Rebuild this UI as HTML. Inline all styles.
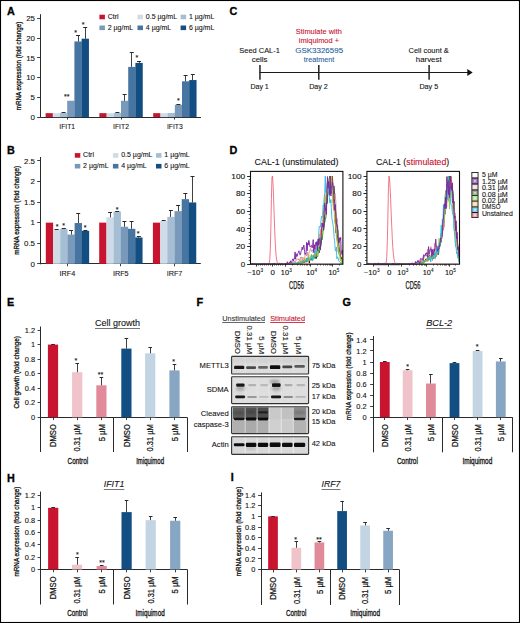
<!DOCTYPE html>
<html><head><meta charset="utf-8"><style>
html,body{margin:0;padding:0;background:#fff;}
svg{display:block;}
svg text{font-family:"Liberation Sans", sans-serif;}
</style></head><body>
<svg width="520" height="623" viewBox="0 0 520 623">
<rect x="0" y="0" width="520" height="623" fill="#fff"/>
<text x="6.90" y="14.80" font-size="10.8" fill="#000" stroke="#000" stroke-width="0.3" font-weight="bold">A</text>
<text x="7.10" y="153.60" font-size="10.8" fill="#000" stroke="#000" stroke-width="0.3" font-weight="bold">B</text>
<text x="229.50" y="15.00" font-size="10.8" fill="#000" stroke="#000" stroke-width="0.3" font-weight="bold">C</text>
<text x="229.60" y="153.70" font-size="10.8" fill="#000" stroke="#000" stroke-width="0.3" font-weight="bold">D</text>
<text x="7.00" y="306.20" font-size="10.8" fill="#000" stroke="#000" stroke-width="0.3" font-weight="bold">E</text>
<text x="196.60" y="305.90" font-size="10.8" fill="#000" stroke="#000" stroke-width="0.3" font-weight="bold">F</text>
<text x="342.40" y="305.90" font-size="10.8" fill="#000" stroke="#000" stroke-width="0.3" font-weight="bold">G</text>
<text x="6.90" y="481.90" font-size="10.8" fill="#000" stroke="#000" stroke-width="0.3" font-weight="bold">H</text>
<text x="230.80" y="481.40" font-size="10.8" fill="#000" stroke="#000" stroke-width="0.3" font-weight="bold">I</text>
<line x1="40.50" y1="14.20" x2="40.50" y2="117.60" stroke="#2a2a2a" stroke-width="1"/>
<line x1="37.10" y1="117.50" x2="40.60" y2="117.50" stroke="#2a2a2a" stroke-width="0.9"/>
<text x="35.00" y="119.80" font-size="7.9" text-anchor="end" fill="#111111" stroke="#111111" stroke-width="0.1">0</text>
<line x1="37.10" y1="97.50" x2="40.60" y2="97.50" stroke="#2a2a2a" stroke-width="0.9"/>
<text x="35.00" y="100.10" font-size="7.9" text-anchor="end" fill="#111111" stroke="#111111" stroke-width="0.1">5</text>
<line x1="37.10" y1="77.50" x2="40.60" y2="77.50" stroke="#2a2a2a" stroke-width="0.9"/>
<text x="35.00" y="80.40" font-size="7.9" text-anchor="end" fill="#111111" stroke="#111111" stroke-width="0.1">10</text>
<line x1="37.10" y1="57.50" x2="40.60" y2="57.50" stroke="#2a2a2a" stroke-width="0.9"/>
<text x="35.00" y="60.70" font-size="7.9" text-anchor="end" fill="#111111" stroke="#111111" stroke-width="0.1">15</text>
<line x1="37.10" y1="38.50" x2="40.60" y2="38.50" stroke="#2a2a2a" stroke-width="0.9"/>
<text x="35.00" y="41.00" font-size="7.9" text-anchor="end" fill="#111111" stroke="#111111" stroke-width="0.1">20</text>
<line x1="37.10" y1="18.50" x2="40.60" y2="18.50" stroke="#2a2a2a" stroke-width="0.9"/>
<text x="35.00" y="21.30" font-size="7.9" text-anchor="end" fill="#111111" stroke="#111111" stroke-width="0.1">25</text>
<line x1="40.60" y1="117.50" x2="201.00" y2="117.50" stroke="#2a2a2a" stroke-width="1"/>
<rect x="45.60" y="113.16" width="7.35" height="3.94" fill="#c8142f"/>
<rect x="52.80" y="113.16" width="7.35" height="3.94" fill="#cfdce7"/>
<rect x="60.00" y="112.84" width="7.35" height="4.26" fill="#a6bed3"/>
<rect x="67.20" y="100.75" width="7.35" height="16.35" fill="#7899b9"/>
<rect x="74.40" y="41.45" width="7.35" height="75.65" fill="#4675a1"/>
<rect x="81.60" y="38.69" width="7.35" height="78.41" fill="#124e82"/>
<line x1="63.50" y1="112.84" x2="63.50" y2="112.29" stroke="#2a2a2a" stroke-width="0.9"/>
<line x1="61.60" y1="112.50" x2="65.60" y2="112.50" stroke="#2a2a2a" stroke-width="1.0"/>
<line x1="78.50" y1="41.45" x2="78.50" y2="35.54" stroke="#2a2a2a" stroke-width="0.9"/>
<line x1="76.00" y1="35.50" x2="80.00" y2="35.50" stroke="#2a2a2a" stroke-width="1.0"/>
<line x1="85.50" y1="38.69" x2="85.50" y2="27.27" stroke="#2a2a2a" stroke-width="0.9"/>
<line x1="83.20" y1="27.50" x2="87.20" y2="27.50" stroke="#2a2a2a" stroke-width="1.0"/>
<text x="66.80" y="99.00" font-size="7" text-anchor="middle" fill="#111111" stroke="#111111" stroke-width="0.1">**</text>
<text x="75.60" y="34.70" font-size="7" text-anchor="middle" fill="#111111" stroke="#111111" stroke-width="0.1">*</text>
<text x="83.00" y="27.00" font-size="7" text-anchor="middle" fill="#111111" stroke="#111111" stroke-width="0.1">*</text>
<line x1="67.50" y1="117.10" x2="67.50" y2="119.60" stroke="#2a2a2a" stroke-width="0.9"/>
<text x="67.20" y="128.80" font-size="8.1" text-anchor="middle" fill="#111111" stroke="#111111" stroke-width="0.1" textLength="15.80" lengthAdjust="spacingAndGlyphs">IFIT1</text>
<rect x="99.40" y="113.16" width="7.35" height="3.94" fill="#c8142f"/>
<rect x="106.60" y="113.16" width="7.35" height="3.94" fill="#cfdce7"/>
<rect x="113.80" y="112.88" width="7.35" height="4.22" fill="#a6bed3"/>
<rect x="121.00" y="100.79" width="7.35" height="16.31" fill="#7899b9"/>
<rect x="128.20" y="66.90" width="7.35" height="50.20" fill="#4675a1"/>
<rect x="135.40" y="62.89" width="7.35" height="54.21" fill="#124e82"/>
<line x1="117.50" y1="112.88" x2="117.50" y2="112.37" stroke="#2a2a2a" stroke-width="0.9"/>
<line x1="115.40" y1="112.50" x2="119.40" y2="112.50" stroke="#2a2a2a" stroke-width="1.0"/>
<line x1="124.50" y1="100.79" x2="124.50" y2="94.64" stroke="#2a2a2a" stroke-width="0.9"/>
<line x1="122.60" y1="94.50" x2="126.60" y2="94.50" stroke="#2a2a2a" stroke-width="1.0"/>
<line x1="131.50" y1="66.90" x2="131.50" y2="52.09" stroke="#2a2a2a" stroke-width="0.9"/>
<line x1="129.80" y1="52.50" x2="133.80" y2="52.50" stroke="#2a2a2a" stroke-width="1.0"/>
<line x1="139.50" y1="62.89" x2="139.50" y2="61.15" stroke="#2a2a2a" stroke-width="0.9"/>
<line x1="137.00" y1="61.50" x2="141.00" y2="61.50" stroke="#2a2a2a" stroke-width="1.0"/>
<text x="136.90" y="59.60" font-size="7" text-anchor="middle" fill="#111111" stroke="#111111" stroke-width="0.1">*</text>
<line x1="121.50" y1="117.10" x2="121.50" y2="119.60" stroke="#2a2a2a" stroke-width="0.9"/>
<text x="121.00" y="128.80" font-size="8.1" text-anchor="middle" fill="#111111" stroke="#111111" stroke-width="0.1" textLength="15.80" lengthAdjust="spacingAndGlyphs">IFIT2</text>
<rect x="153.20" y="113.16" width="7.35" height="3.94" fill="#c8142f"/>
<rect x="160.40" y="113.16" width="7.35" height="3.94" fill="#cfdce7"/>
<rect x="167.60" y="113.00" width="7.35" height="4.10" fill="#a6bed3"/>
<rect x="174.80" y="104.81" width="7.35" height="12.29" fill="#7899b9"/>
<rect x="182.00" y="81.29" width="7.35" height="35.81" fill="#4675a1"/>
<rect x="189.20" y="80.06" width="7.35" height="37.04" fill="#124e82"/>
<line x1="178.50" y1="104.81" x2="178.50" y2="104.49" stroke="#2a2a2a" stroke-width="0.9"/>
<line x1="176.40" y1="104.50" x2="180.40" y2="104.50" stroke="#2a2a2a" stroke-width="1.0"/>
<line x1="185.50" y1="81.29" x2="185.50" y2="75.41" stroke="#2a2a2a" stroke-width="0.9"/>
<line x1="183.60" y1="75.50" x2="187.60" y2="75.50" stroke="#2a2a2a" stroke-width="1.0"/>
<line x1="192.50" y1="80.06" x2="192.50" y2="74.55" stroke="#2a2a2a" stroke-width="0.9"/>
<line x1="190.80" y1="74.50" x2="194.80" y2="74.50" stroke="#2a2a2a" stroke-width="1.0"/>
<text x="178.40" y="103.10" font-size="7" text-anchor="middle" fill="#111111" stroke="#111111" stroke-width="0.1">*</text>
<line x1="174.50" y1="117.10" x2="174.50" y2="119.60" stroke="#2a2a2a" stroke-width="0.9"/>
<text x="174.80" y="128.80" font-size="8.1" text-anchor="middle" fill="#111111" stroke="#111111" stroke-width="0.1" textLength="15.80" lengthAdjust="spacingAndGlyphs">IFIT3</text>
<text x="21.00" y="66.00" font-size="7.3" text-anchor="middle" fill="#111111" stroke="#111111" stroke-width="0.3" textLength="88.50" lengthAdjust="spacingAndGlyphs" transform="rotate(-90 21.00 66.00)">mRNA expression (fold change)</text>
<rect x="99.40" y="14.70" width="5.50" height="4.60" fill="#c8142f"/>
<text x="107.70" y="18.80" font-size="7.0" fill="#111111" stroke="#111111" stroke-width="0.1">Ctrl</text>
<rect x="137.50" y="14.70" width="5.50" height="4.60" fill="#cfdce7"/>
<text x="145.80" y="18.80" font-size="7.0" fill="#111111" stroke="#111111" stroke-width="0.1">0.5 µg/mL</text>
<rect x="180.60" y="14.70" width="5.50" height="4.60" fill="#a6bed3"/>
<text x="188.90" y="18.80" font-size="7.0" fill="#111111" stroke="#111111" stroke-width="0.1">1 µg/mL</text>
<rect x="99.40" y="25.50" width="5.50" height="4.60" fill="#7899b9"/>
<text x="107.70" y="29.60" font-size="7.0" fill="#111111" stroke="#111111" stroke-width="0.1">2 µg/mL</text>
<rect x="137.50" y="25.50" width="5.50" height="4.60" fill="#4675a1"/>
<text x="145.80" y="29.60" font-size="7.0" fill="#111111" stroke="#111111" stroke-width="0.1">4 µg/mL</text>
<rect x="180.60" y="25.50" width="5.50" height="4.60" fill="#124e82"/>
<text x="188.90" y="29.60" font-size="7.0" fill="#111111" stroke="#111111" stroke-width="0.1">6 µg/mL</text>
<line x1="40.50" y1="157.00" x2="40.50" y2="264.30" stroke="#2a2a2a" stroke-width="1"/>
<line x1="37.20" y1="263.50" x2="40.70" y2="263.50" stroke="#2a2a2a" stroke-width="0.9"/>
<text x="35.00" y="266.50" font-size="7.9" text-anchor="end" fill="#111111" stroke="#111111" stroke-width="0.1">0</text>
<line x1="37.20" y1="243.50" x2="40.70" y2="243.50" stroke="#2a2a2a" stroke-width="0.9"/>
<text x="35.00" y="245.92" font-size="7.9" text-anchor="end" fill="#111111" stroke="#111111" stroke-width="0.1">0.5</text>
<line x1="37.20" y1="222.50" x2="40.70" y2="222.50" stroke="#2a2a2a" stroke-width="0.9"/>
<text x="35.00" y="225.34" font-size="7.9" text-anchor="end" fill="#111111" stroke="#111111" stroke-width="0.1">1</text>
<line x1="37.20" y1="202.50" x2="40.70" y2="202.50" stroke="#2a2a2a" stroke-width="0.9"/>
<text x="35.00" y="204.76" font-size="7.9" text-anchor="end" fill="#111111" stroke="#111111" stroke-width="0.1">1.5</text>
<line x1="37.20" y1="181.50" x2="40.70" y2="181.50" stroke="#2a2a2a" stroke-width="0.9"/>
<text x="35.00" y="184.18" font-size="7.9" text-anchor="end" fill="#111111" stroke="#111111" stroke-width="0.1">2</text>
<line x1="37.20" y1="160.50" x2="40.70" y2="160.50" stroke="#2a2a2a" stroke-width="0.9"/>
<text x="35.00" y="163.60" font-size="7.9" text-anchor="end" fill="#111111" stroke="#111111" stroke-width="0.1">2.5</text>
<line x1="40.70" y1="263.50" x2="200.80" y2="263.50" stroke="#2a2a2a" stroke-width="1"/>
<rect x="45.80" y="222.64" width="7.35" height="41.16" fill="#c8142f"/>
<rect x="53.00" y="229.64" width="7.35" height="34.16" fill="#cfdce7"/>
<rect x="60.20" y="228.81" width="7.35" height="34.99" fill="#a6bed3"/>
<rect x="67.40" y="234.58" width="7.35" height="29.22" fill="#7899b9"/>
<rect x="74.60" y="223.05" width="7.35" height="40.75" fill="#4675a1"/>
<rect x="81.80" y="230.87" width="7.35" height="32.93" fill="#124e82"/>
<line x1="56.50" y1="229.64" x2="56.50" y2="229.43" stroke="#2a2a2a" stroke-width="0.9"/>
<line x1="54.60" y1="229.50" x2="58.60" y2="229.50" stroke="#2a2a2a" stroke-width="1.0"/>
<line x1="63.50" y1="228.81" x2="63.50" y2="228.40" stroke="#2a2a2a" stroke-width="0.9"/>
<line x1="61.80" y1="228.50" x2="65.80" y2="228.50" stroke="#2a2a2a" stroke-width="1.0"/>
<line x1="71.50" y1="234.58" x2="71.50" y2="230.46" stroke="#2a2a2a" stroke-width="0.9"/>
<line x1="69.00" y1="230.50" x2="73.00" y2="230.50" stroke="#2a2a2a" stroke-width="1.0"/>
<line x1="78.50" y1="223.05" x2="78.50" y2="213.17" stroke="#2a2a2a" stroke-width="0.9"/>
<line x1="76.20" y1="213.50" x2="80.20" y2="213.50" stroke="#2a2a2a" stroke-width="1.0"/>
<line x1="85.50" y1="230.87" x2="85.50" y2="230.46" stroke="#2a2a2a" stroke-width="0.9"/>
<line x1="83.40" y1="230.50" x2="87.40" y2="230.50" stroke="#2a2a2a" stroke-width="1.0"/>
<text x="57.00" y="228.60" font-size="7" text-anchor="middle" fill="#111111" stroke="#111111" stroke-width="0.1">*</text>
<text x="63.50" y="228.00" font-size="7" text-anchor="middle" fill="#111111" stroke="#111111" stroke-width="0.1">*</text>
<text x="85.00" y="230.00" font-size="7" text-anchor="middle" fill="#111111" stroke="#111111" stroke-width="0.1">*</text>
<line x1="67.50" y1="263.80" x2="67.50" y2="266.30" stroke="#2a2a2a" stroke-width="0.9"/>
<text x="67.40" y="276.00" font-size="8.1" text-anchor="middle" fill="#111111" stroke="#111111" stroke-width="0.1" textLength="15.70" lengthAdjust="spacingAndGlyphs">IRF4</text>
<rect x="99.20" y="222.64" width="7.35" height="41.16" fill="#c8142f"/>
<rect x="106.40" y="217.29" width="7.35" height="46.51" fill="#cfdce7"/>
<rect x="113.60" y="211.53" width="7.35" height="52.27" fill="#a6bed3"/>
<rect x="120.80" y="226.76" width="7.35" height="37.04" fill="#7899b9"/>
<rect x="128.00" y="228.81" width="7.35" height="34.99" fill="#4675a1"/>
<rect x="135.20" y="237.46" width="7.35" height="26.34" fill="#124e82"/>
<line x1="110.50" y1="217.29" x2="110.50" y2="212.35" stroke="#2a2a2a" stroke-width="0.9"/>
<line x1="108.00" y1="212.50" x2="112.00" y2="212.50" stroke="#2a2a2a" stroke-width="1.0"/>
<line x1="117.50" y1="211.53" x2="117.50" y2="211.12" stroke="#2a2a2a" stroke-width="0.9"/>
<line x1="115.20" y1="211.50" x2="119.20" y2="211.50" stroke="#2a2a2a" stroke-width="1.0"/>
<line x1="124.50" y1="226.76" x2="124.50" y2="221.41" stroke="#2a2a2a" stroke-width="0.9"/>
<line x1="122.40" y1="221.50" x2="126.40" y2="221.50" stroke="#2a2a2a" stroke-width="1.0"/>
<line x1="131.50" y1="228.81" x2="131.50" y2="221.82" stroke="#2a2a2a" stroke-width="0.9"/>
<line x1="129.60" y1="221.50" x2="133.60" y2="221.50" stroke="#2a2a2a" stroke-width="1.0"/>
<line x1="138.50" y1="237.46" x2="138.50" y2="236.63" stroke="#2a2a2a" stroke-width="0.9"/>
<line x1="136.80" y1="236.50" x2="140.80" y2="236.50" stroke="#2a2a2a" stroke-width="1.0"/>
<text x="117.20" y="211.70" font-size="7" text-anchor="middle" fill="#111111" stroke="#111111" stroke-width="0.1">*</text>
<text x="138.20" y="235.80" font-size="7" text-anchor="middle" fill="#111111" stroke="#111111" stroke-width="0.1">*</text>
<line x1="120.50" y1="263.80" x2="120.50" y2="266.30" stroke="#2a2a2a" stroke-width="0.9"/>
<text x="120.80" y="276.00" font-size="8.1" text-anchor="middle" fill="#111111" stroke="#111111" stroke-width="0.1" textLength="15.70" lengthAdjust="spacingAndGlyphs">IRF5</text>
<rect x="152.90" y="222.64" width="7.35" height="41.16" fill="#c8142f"/>
<rect x="160.10" y="220.99" width="7.35" height="42.81" fill="#cfdce7"/>
<rect x="167.30" y="216.88" width="7.35" height="46.92" fill="#a6bed3"/>
<rect x="174.50" y="211.12" width="7.35" height="52.68" fill="#7899b9"/>
<rect x="181.70" y="199.18" width="7.35" height="64.62" fill="#4675a1"/>
<rect x="188.90" y="202.47" width="7.35" height="61.33" fill="#124e82"/>
<line x1="163.50" y1="220.99" x2="163.50" y2="220.58" stroke="#2a2a2a" stroke-width="0.9"/>
<line x1="161.70" y1="220.50" x2="165.70" y2="220.50" stroke="#2a2a2a" stroke-width="1.0"/>
<line x1="170.50" y1="216.88" x2="170.50" y2="210.29" stroke="#2a2a2a" stroke-width="0.9"/>
<line x1="168.90" y1="210.50" x2="172.90" y2="210.50" stroke="#2a2a2a" stroke-width="1.0"/>
<line x1="178.50" y1="211.12" x2="178.50" y2="205.35" stroke="#2a2a2a" stroke-width="0.9"/>
<line x1="176.10" y1="205.50" x2="180.10" y2="205.50" stroke="#2a2a2a" stroke-width="1.0"/>
<line x1="185.50" y1="199.18" x2="185.50" y2="193.00" stroke="#2a2a2a" stroke-width="0.9"/>
<line x1="183.30" y1="193.50" x2="187.30" y2="193.50" stroke="#2a2a2a" stroke-width="1.0"/>
<line x1="192.50" y1="202.47" x2="192.50" y2="176.54" stroke="#2a2a2a" stroke-width="0.9"/>
<line x1="190.50" y1="176.50" x2="194.50" y2="176.50" stroke="#2a2a2a" stroke-width="1.0"/>
<line x1="174.50" y1="263.80" x2="174.50" y2="266.30" stroke="#2a2a2a" stroke-width="0.9"/>
<text x="174.50" y="276.00" font-size="8.1" text-anchor="middle" fill="#111111" stroke="#111111" stroke-width="0.1" textLength="15.70" lengthAdjust="spacingAndGlyphs">IRF7</text>
<text x="19.00" y="210.40" font-size="7.3" text-anchor="middle" fill="#111111" stroke="#111111" stroke-width="0.3" textLength="88.80" lengthAdjust="spacingAndGlyphs" transform="rotate(-90 19.00 210.40)">mRNA expression (fold change)</text>
<rect x="74.80" y="153.10" width="5.50" height="4.60" fill="#c8142f"/>
<text x="83.10" y="157.20" font-size="7.0" fill="#111111" stroke="#111111" stroke-width="0.1">Ctrl</text>
<rect x="112.90" y="153.10" width="5.50" height="4.60" fill="#cfdce7"/>
<text x="121.20" y="157.20" font-size="7.0" fill="#111111" stroke="#111111" stroke-width="0.1">0.5 µg/mL</text>
<rect x="156.00" y="153.10" width="5.50" height="4.60" fill="#a6bed3"/>
<text x="164.30" y="157.20" font-size="7.0" fill="#111111" stroke="#111111" stroke-width="0.1">1 µg/mL</text>
<rect x="74.80" y="163.90" width="5.50" height="4.60" fill="#7899b9"/>
<text x="83.10" y="168.00" font-size="7.0" fill="#111111" stroke="#111111" stroke-width="0.1">2 µg/mL</text>
<rect x="112.90" y="163.90" width="5.50" height="4.60" fill="#4675a1"/>
<text x="121.20" y="168.00" font-size="7.0" fill="#111111" stroke="#111111" stroke-width="0.1">4 µg/mL</text>
<rect x="156.00" y="163.90" width="5.50" height="4.60" fill="#124e82"/>
<text x="164.30" y="168.00" font-size="7.0" fill="#111111" stroke="#111111" stroke-width="0.1">6 µg/mL</text>
<line x1="259.60" y1="72.50" x2="468.00" y2="72.50" stroke="#1a1a1a" stroke-width="1.1"/>
<path d="M467.3,69.1 L472.7,72.5 L467.3,75.9 Z" fill="#111"/>
<line x1="259.95" y1="65.00" x2="259.95" y2="79.80" stroke="#222" stroke-width="1.5"/>
<line x1="318.80" y1="65.00" x2="318.80" y2="79.80" stroke="#222" stroke-width="1.5"/>
<line x1="429.10" y1="65.00" x2="429.10" y2="79.80" stroke="#222" stroke-width="1.5"/>
<text x="259.60" y="53.00" font-size="7.9" text-anchor="middle" fill="#111111" stroke="#111111" stroke-width="0.1" textLength="40.60" lengthAdjust="spacingAndGlyphs">Seed CAL-1</text>
<text x="259.60" y="62.00" font-size="7.9" text-anchor="middle" fill="#111111" stroke="#111111" stroke-width="0.1">cells</text>
<text x="259.60" y="88.90" font-size="7.9" text-anchor="middle" fill="#111111" stroke="#111111" stroke-width="0.1" textLength="18.40" lengthAdjust="spacingAndGlyphs">Day 1</text>
<text x="318.50" y="88.90" font-size="7.9" text-anchor="middle" fill="#111111" stroke="#111111" stroke-width="0.1" textLength="18.60" lengthAdjust="spacingAndGlyphs">Day 2</text>
<text x="428.80" y="88.90" font-size="7.9" text-anchor="middle" fill="#111111" stroke="#111111" stroke-width="0.1" textLength="18.80" lengthAdjust="spacingAndGlyphs">Day 5</text>
<text x="318.85" y="33.90" font-size="7.9" text-anchor="middle" fill="#c8102e" stroke="#c8102e" stroke-width="0.1" textLength="46.10" lengthAdjust="spacingAndGlyphs">Stimulate with</text>
<text x="318.90" y="42.70" font-size="7.9" text-anchor="middle" fill="#c8102e" stroke="#c8102e" stroke-width="0.1" textLength="40.30" lengthAdjust="spacingAndGlyphs">imiquimod +</text>
<text x="319.15" y="52.50" font-size="8.1" text-anchor="middle" fill="#1f5f9c" stroke="#1f5f9c" stroke-width="0.1" textLength="47.90" lengthAdjust="spacingAndGlyphs">GSK3326595</text>
<text x="319.10" y="61.60" font-size="7.9" text-anchor="middle" fill="#1f5f9c" stroke="#1f5f9c" stroke-width="0.1" textLength="30.60" lengthAdjust="spacingAndGlyphs">treatment</text>
<text x="428.65" y="53.00" font-size="7.9" text-anchor="middle" fill="#111111" stroke="#111111" stroke-width="0.1" textLength="40.30" lengthAdjust="spacingAndGlyphs">Cell count &amp;</text>
<text x="428.70" y="62.20" font-size="7.9" text-anchor="middle" fill="#111111" stroke="#111111" stroke-width="0.1">harvest</text>
<clipPath id="clip250"><rect x="250.5" y="171.4" width="92.39999999999998" height="92.79999999999998"/></clipPath>
<g clip-path="url(#clip250)" fill="none" stroke-width="0.9" stroke-linejoin="round">
<polyline points="250.50,264.20 251.05,264.01 251.60,264.20 252.15,264.20 252.70,264.20 253.25,264.20 253.80,263.64 254.35,264.20 254.90,264.08 255.45,264.20 256.00,264.20 256.55,264.20 257.10,263.93 257.65,264.20 258.20,264.20 258.75,264.19 259.30,263.70 259.85,263.91 260.40,264.04 260.95,264.20 261.50,264.20 262.05,263.80 262.60,263.79 263.15,264.20 263.70,263.97 264.25,263.87 264.80,263.85 265.35,263.81 265.90,264.20 266.45,263.56 267.00,264.20 267.55,263.84 268.10,263.99 268.65,263.83 269.20,263.41 269.75,263.58 270.30,264.20 270.85,264.20 271.40,263.86 271.95,264.20 272.50,264.20 273.05,263.85 273.60,264.20 274.15,264.20 274.70,264.09 275.25,264.18 275.80,264.20 276.35,264.18 276.90,264.20 277.45,264.20 278.00,264.20 278.55,264.20 279.10,264.20 279.65,263.99 280.20,264.20 280.75,264.03 281.30,264.20 281.85,264.20 282.40,264.20 282.95,264.20 283.50,264.11 284.05,264.20 284.60,264.04 285.15,264.05 285.70,263.34 286.25,264.20 286.80,263.80 287.35,264.20 287.90,264.17 288.45,264.20 289.00,264.20 289.55,263.81 290.10,264.13 290.65,264.04 291.20,264.17 291.75,263.52 292.30,263.97 292.85,264.20 293.40,264.15 293.95,264.20 294.50,264.20 295.05,263.89 295.60,262.83 296.15,263.40 296.70,264.03 297.25,263.80 297.80,262.28 298.35,262.80 298.90,262.73 299.45,262.65 300.00,262.42 300.55,261.56 301.10,261.59 301.65,261.73 302.20,262.81 302.75,261.05 303.30,262.15 303.85,260.01 304.40,262.51 304.95,261.04 305.50,260.71 306.05,262.16 306.60,258.15 307.15,258.25 307.70,260.58 308.25,258.72 308.80,259.04 309.35,263.07 309.90,258.77 310.45,259.00 311.00,258.54 311.55,260.08 312.10,258.56 312.65,258.13 313.20,255.55 313.75,256.61 314.30,256.81 314.85,253.60 315.40,256.90 315.95,256.04 316.50,258.25 317.05,250.58 317.60,250.82 318.15,249.72 318.70,248.91 319.25,248.70 319.80,246.62 320.35,245.83 320.90,243.34 321.45,239.85 322.00,231.87 322.55,231.59 323.10,230.07 323.65,228.14 324.20,224.20 324.75,209.90 325.30,209.98 325.85,207.28 326.40,204.64 326.95,204.11 327.50,194.30 328.05,185.05 328.60,188.56 329.15,184.60 329.70,182.17 330.25,178.51 330.80,187.75 331.35,179.47 331.90,184.09 332.45,176.00 333.00,189.02 333.55,185.77 334.10,186.03 334.65,201.77 335.20,209.40 335.75,212.05 336.30,219.39 336.85,229.62 337.40,229.82 337.95,230.15 338.50,242.60 339.05,246.65 339.60,252.35 340.15,252.21 340.70,257.86 341.25,259.42 341.80,257.41 342.35,261.67 342.90,260.42 343.45,260.96" stroke="#111111"/>
<polyline points="250.50,264.10 251.05,263.99 251.60,263.44 252.15,264.20 252.70,264.20 253.25,264.20 253.80,264.18 254.35,263.63 254.90,263.83 255.45,264.20 256.00,264.20 256.55,264.20 257.10,264.09 257.65,264.20 258.20,264.12 258.75,264.08 259.30,264.20 259.85,264.20 260.40,264.12 260.95,264.20 261.50,264.00 262.05,263.47 262.60,263.97 263.15,264.18 263.70,264.20 264.25,264.05 264.80,264.20 265.35,264.20 265.90,263.87 266.45,263.93 267.00,264.20 267.55,264.20 268.10,264.20 268.65,264.20 269.20,263.95 269.75,263.32 270.30,264.12 270.85,264.20 271.40,264.20 271.95,264.20 272.50,264.20 273.05,264.20 273.60,264.15 274.15,264.20 274.70,263.77 275.25,263.79 275.80,263.78 276.35,264.20 276.90,264.00 277.45,264.20 278.00,264.20 278.55,264.20 279.10,264.20 279.65,264.20 280.20,263.89 280.75,264.20 281.30,264.12 281.85,263.81 282.40,264.20 282.95,264.20 283.50,264.13 284.05,264.04 284.60,264.20 285.15,263.79 285.70,264.11 286.25,264.20 286.80,264.20 287.35,263.86 287.90,263.99 288.45,264.20 289.00,263.62 289.55,263.90 290.10,263.59 290.65,264.20 291.20,264.17 291.75,264.20 292.30,263.00 292.85,264.01 293.40,263.27 293.95,264.07 294.50,263.69 295.05,264.20 295.60,263.77 296.15,262.98 296.70,264.09 297.25,262.63 297.80,262.94 298.35,263.72 298.90,263.24 299.45,263.08 300.00,262.63 300.55,262.87 301.10,262.99 301.65,262.39 302.20,262.91 302.75,263.03 303.30,261.68 303.85,260.56 304.40,262.91 304.95,261.14 305.50,261.70 306.05,261.92 306.60,259.64 307.15,261.09 307.70,258.46 308.25,261.09 308.80,259.43 309.35,260.03 309.90,260.54 310.45,258.50 311.00,259.30 311.55,257.97 312.10,258.64 312.65,259.92 313.20,258.14 313.75,257.55 314.30,255.68 314.85,258.33 315.40,256.37 315.95,258.82 316.50,253.80 317.05,256.33 317.60,256.96 318.15,252.26 318.70,248.30 319.25,252.90 319.80,250.21 320.35,247.37 320.90,246.22 321.45,239.16 322.00,239.91 322.55,236.47 323.10,228.32 323.65,229.44 324.20,220.76 324.75,222.33 325.30,219.23 325.85,217.96 326.40,196.41 326.95,202.72 327.50,196.05 328.05,193.96 328.60,189.92 329.15,188.02 329.70,176.00 330.25,190.96 330.80,193.36 331.35,190.71 331.90,193.99 332.45,185.48 333.00,189.01 333.55,202.83 334.10,210.09 334.65,210.84 335.20,209.27 335.75,232.83 336.30,225.38 336.85,236.72 337.40,234.91 337.95,245.97 338.50,247.74 339.05,254.00 339.60,255.52 340.15,253.56 340.70,256.75 341.25,260.14 341.80,261.83 342.35,263.61 342.90,262.81 343.45,263.03" stroke="#1d6b2a"/>
<polyline points="250.50,264.20 251.05,264.20 251.60,264.20 252.15,264.20 252.70,264.20 253.25,263.60 253.80,263.33 254.35,264.20 254.90,264.20 255.45,264.20 256.00,264.20 256.55,264.20 257.10,264.20 257.65,264.20 258.20,263.92 258.75,264.20 259.30,264.08 259.85,264.20 260.40,264.20 260.95,264.20 261.50,264.20 262.05,264.20 262.60,264.09 263.15,264.20 263.70,264.20 264.25,264.17 264.80,264.20 265.35,264.20 265.90,264.20 266.45,264.20 267.00,264.16 267.55,264.13 268.10,264.20 268.65,264.20 269.20,264.20 269.75,264.20 270.30,264.20 270.85,264.20 271.40,264.16 271.95,264.20 272.50,264.09 273.05,264.13 273.60,264.20 274.15,264.20 274.70,263.94 275.25,264.20 275.80,263.98 276.35,264.08 276.90,264.06 277.45,264.02 278.00,264.20 278.55,264.20 279.10,263.89 279.65,263.99 280.20,264.09 280.75,264.20 281.30,263.93 281.85,263.63 282.40,263.69 282.95,264.04 283.50,264.20 284.05,263.69 284.60,264.18 285.15,264.20 285.70,263.88 286.25,264.20 286.80,264.20 287.35,264.20 287.90,263.29 288.45,263.98 289.00,263.59 289.55,262.67 290.10,262.57 290.65,263.46 291.20,263.41 291.75,264.04 292.30,263.46 292.85,262.29 293.40,262.06 293.95,262.08 294.50,260.83 295.05,262.52 295.60,261.39 296.15,260.04 296.70,259.86 297.25,258.78 297.80,259.36 298.35,260.08 298.90,258.65 299.45,260.55 300.00,261.35 300.55,257.13 301.10,257.91 301.65,256.89 302.20,260.40 302.75,257.51 303.30,257.67 303.85,257.91 304.40,260.54 304.95,256.21 305.50,253.23 306.05,254.03 306.60,255.92 307.15,254.31 307.70,252.24 308.25,260.19 308.80,253.74 309.35,251.88 309.90,251.27 310.45,248.50 311.00,249.62 311.55,251.42 312.10,251.18 312.65,249.67 313.20,252.79 313.75,251.17 314.30,248.26 314.85,244.91 315.40,250.10 315.95,249.12 316.50,247.59 317.05,243.17 317.60,246.09 318.15,239.89 318.70,246.18 319.25,241.70 319.80,239.58 320.35,233.38 320.90,229.42 321.45,236.88 322.00,231.22 322.55,222.04 323.10,222.95 323.65,223.46 324.20,206.23 324.75,204.83 325.30,200.60 325.85,202.13 326.40,189.34 326.95,193.42 327.50,181.83 328.05,191.80 328.60,189.24 329.15,180.64 329.70,185.55 330.25,176.00 330.80,179.01 331.35,187.81 331.90,183.02 332.45,188.20 333.00,183.29 333.55,196.56 334.10,199.41 334.65,194.32 335.20,193.65 335.75,200.34 336.30,215.54 336.85,219.72 337.40,218.64 337.95,230.65 338.50,238.31 339.05,238.04 339.60,240.63 340.15,248.10 340.70,253.22 341.25,254.89 341.80,251.85 342.35,257.04 342.90,257.36 343.45,258.14" stroke="#d28e8e"/>
<polyline points="250.50,263.92 251.05,264.20 251.60,263.97 252.15,264.20 252.70,264.20 253.25,264.20 253.80,263.69 254.35,264.20 254.90,264.20 255.45,264.20 256.00,264.20 256.55,263.88 257.10,264.20 257.65,264.20 258.20,264.20 258.75,263.05 259.30,263.77 259.85,264.20 260.40,263.88 260.95,263.27 261.50,264.20 262.05,264.20 262.60,263.65 263.15,263.98 263.70,263.90 264.25,264.20 264.80,263.33 265.35,263.43 265.90,263.94 266.45,263.89 267.00,264.20 267.55,263.91 268.10,264.20 268.65,264.00 269.20,263.89 269.75,264.20 270.30,264.20 270.85,264.03 271.40,264.20 271.95,264.20 272.50,264.20 273.05,264.20 273.60,264.20 274.15,263.65 274.70,264.09 275.25,263.70 275.80,263.30 276.35,264.19 276.90,264.20 277.45,264.20 278.00,264.20 278.55,264.20 279.10,264.16 279.65,264.20 280.20,264.04 280.75,264.20 281.30,264.06 281.85,264.20 282.40,264.20 282.95,264.20 283.50,264.20 284.05,264.20 284.60,264.20 285.15,264.20 285.70,263.35 286.25,263.28 286.80,263.58 287.35,263.85 287.90,264.20 288.45,263.49 289.00,264.16 289.55,264.14 290.10,264.20 290.65,264.02 291.20,264.20 291.75,264.02 292.30,264.20 292.85,264.05 293.40,262.78 293.95,263.77 294.50,263.78 295.05,263.25 295.60,263.01 296.15,264.07 296.70,263.35 297.25,262.35 297.80,262.69 298.35,262.64 298.90,261.15 299.45,263.05 300.00,262.12 300.55,262.57 301.10,260.17 301.65,263.86 302.20,262.22 302.75,261.87 303.30,260.16 303.85,260.00 304.40,258.69 304.95,262.58 305.50,259.09 306.05,260.39 306.60,260.74 307.15,258.67 307.70,260.74 308.25,262.41 308.80,259.39 309.35,261.06 309.90,259.34 310.45,257.22 311.00,256.96 311.55,254.15 312.10,257.14 312.65,259.37 313.20,257.34 313.75,257.15 314.30,257.21 314.85,252.71 315.40,254.38 315.95,256.77 316.50,248.73 317.05,249.48 317.60,246.51 318.15,245.37 318.70,241.52 319.25,241.04 319.80,233.97 320.35,233.82 320.90,230.55 321.45,226.78 322.00,231.23 322.55,221.37 323.10,217.62 323.65,210.89 324.20,214.90 324.75,194.11 325.30,198.46 325.85,202.34 326.40,201.99 326.95,190.18 327.50,186.41 328.05,188.47 328.60,181.96 329.15,186.15 329.70,178.58 330.25,187.91 330.80,185.48 331.35,181.96 331.90,176.00 332.45,201.89 333.00,203.33 333.55,210.40 334.10,207.07 334.65,222.26 335.20,224.23 335.75,227.33 336.30,236.13 336.85,240.38 337.40,242.67 337.95,251.47 338.50,252.37 339.05,252.25 339.60,253.37 340.15,256.24 340.70,260.89 341.25,259.85 341.80,259.16 342.35,260.55 342.90,262.06 343.45,263.37" stroke="#f39a2c"/>
<polyline points="250.50,263.91 251.05,264.20 251.60,264.20 252.15,264.20 252.70,263.54 253.25,264.10 253.80,263.67 254.35,264.20 254.90,263.77 255.45,264.20 256.00,264.20 256.55,263.06 257.10,263.85 257.65,264.20 258.20,264.20 258.75,264.05 259.30,263.65 259.85,264.20 260.40,264.20 260.95,264.20 261.50,264.19 262.05,264.15 262.60,263.60 263.15,264.06 263.70,263.83 264.25,264.20 264.80,263.80 265.35,263.24 265.90,263.85 266.45,264.08 267.00,264.13 267.55,263.38 268.10,264.20 268.65,264.20 269.20,263.99 269.75,263.86 270.30,264.20 270.85,264.06 271.40,264.20 271.95,264.14 272.50,264.20 273.05,264.20 273.60,264.20 274.15,263.80 274.70,264.20 275.25,264.20 275.80,263.90 276.35,264.20 276.90,264.12 277.45,264.20 278.00,263.68 278.55,263.14 279.10,263.27 279.65,264.20 280.20,263.86 280.75,264.14 281.30,264.15 281.85,263.49 282.40,264.20 282.95,263.71 283.50,264.20 284.05,263.55 284.60,264.11 285.15,264.20 285.70,264.06 286.25,263.84 286.80,264.16 287.35,263.94 287.90,264.20 288.45,264.20 289.00,263.72 289.55,263.79 290.10,264.02 290.65,264.03 291.20,263.55 291.75,264.19 292.30,264.20 292.85,263.96 293.40,263.27 293.95,264.20 294.50,263.01 295.05,263.92 295.60,264.13 296.15,262.48 296.70,263.27 297.25,264.06 297.80,263.20 298.35,261.94 298.90,261.49 299.45,262.81 300.00,261.81 300.55,261.28 301.10,262.55 301.65,261.24 302.20,261.49 302.75,261.92 303.30,261.69 303.85,260.79 304.40,260.64 304.95,261.28 305.50,260.91 306.05,258.49 306.60,259.60 307.15,258.37 307.70,257.65 308.25,258.37 308.80,255.40 309.35,260.24 309.90,257.25 310.45,258.92 311.00,254.79 311.55,254.69 312.10,261.11 312.65,258.95 313.20,255.38 313.75,254.63 314.30,254.16 314.85,255.26 315.40,253.39 315.95,252.07 316.50,252.84 317.05,248.91 317.60,256.31 318.15,246.93 318.70,250.05 319.25,241.92 319.80,243.40 320.35,243.16 320.90,235.69 321.45,237.46 322.00,234.13 322.55,233.40 323.10,222.53 323.65,215.71 324.20,208.51 324.75,210.03 325.30,199.03 325.85,200.42 326.40,196.99 326.95,189.18 327.50,182.74 328.05,188.67 328.60,185.85 329.15,183.77 329.70,181.34 330.25,187.67 330.80,176.00 331.35,187.23 331.90,184.77 332.45,196.67 333.00,194.17 333.55,199.34 334.10,209.53 334.65,202.75 335.20,217.27 335.75,216.85 336.30,226.39 336.85,238.12 337.40,241.64 337.95,243.13 338.50,248.05 339.05,251.29 339.60,254.77 340.15,260.00 340.70,258.59 341.25,263.06 341.80,260.32 342.35,262.54 342.90,263.09 343.45,263.09" stroke="#8ccf4c"/>
<polyline points="250.50,264.08 251.05,264.20 251.60,264.20 252.15,264.20 252.70,264.20 253.25,264.20 253.80,263.51 254.35,264.20 254.90,263.92 255.45,264.20 256.00,264.07 256.55,264.20 257.10,264.20 257.65,263.95 258.20,263.44 258.75,264.12 259.30,264.15 259.85,264.20 260.40,263.95 260.95,264.20 261.50,263.84 262.05,264.20 262.60,263.44 263.15,264.20 263.70,264.20 264.25,263.82 264.80,264.20 265.35,264.20 265.90,264.20 266.45,264.20 267.00,264.15 267.55,263.14 268.10,263.70 268.65,264.20 269.20,264.20 269.75,264.20 270.30,263.76 270.85,264.20 271.40,264.20 271.95,263.82 272.50,263.82 273.05,264.20 273.60,264.20 274.15,264.20 274.70,264.20 275.25,264.20 275.80,263.87 276.35,264.20 276.90,263.99 277.45,263.39 278.00,263.69 278.55,264.20 279.10,263.82 279.65,263.70 280.20,264.20 280.75,264.20 281.30,264.20 281.85,264.20 282.40,263.56 282.95,264.20 283.50,264.20 284.05,264.20 284.60,264.20 285.15,264.12 285.70,264.07 286.25,264.20 286.80,263.69 287.35,264.20 287.90,264.17 288.45,264.20 289.00,264.09 289.55,264.03 290.10,264.20 290.65,264.20 291.20,263.71 291.75,263.87 292.30,264.20 292.85,263.06 293.40,262.89 293.95,264.20 294.50,263.62 295.05,262.41 295.60,263.16 296.15,263.36 296.70,263.52 297.25,263.64 297.80,263.30 298.35,263.43 298.90,262.27 299.45,263.06 300.00,262.96 300.55,263.53 301.10,262.28 301.65,262.97 302.20,262.07 302.75,260.54 303.30,261.09 303.85,260.72 304.40,260.69 304.95,260.85 305.50,260.89 306.05,260.92 306.60,259.24 307.15,261.60 307.70,257.85 308.25,259.51 308.80,260.45 309.35,259.77 309.90,259.78 310.45,258.03 311.00,259.17 311.55,255.39 312.10,258.44 312.65,260.84 313.20,257.21 313.75,259.22 314.30,254.12 314.85,250.48 315.40,250.11 315.95,253.74 316.50,250.64 317.05,241.30 317.60,243.25 318.15,241.61 318.70,234.94 319.25,226.15 319.80,226.58 320.35,227.24 320.90,222.04 321.45,216.31 322.00,217.68 322.55,215.51 323.10,205.22 323.65,206.39 324.20,197.36 324.75,192.74 325.30,176.00 325.85,192.78 326.40,186.47 326.95,185.66 327.50,181.65 328.05,178.53 328.60,189.81 329.15,194.49 329.70,202.83 330.25,202.81 330.80,199.53 331.35,207.65 331.90,218.60 332.45,221.01 333.00,224.75 333.55,228.24 334.10,237.60 334.65,240.89 335.20,249.91 335.75,251.17 336.30,247.01 336.85,258.77 337.40,256.77 337.95,257.58 338.50,260.03 339.05,261.72 339.60,261.65 340.15,262.30 340.70,262.90 341.25,264.20 341.80,263.61 342.35,264.14 342.90,264.12 343.45,263.89" stroke="#2fb6e6"/>
<polyline points="250.50,263.83 251.05,263.69 251.60,264.20 252.15,263.67 252.70,263.53 253.25,263.55 253.80,263.41 254.35,264.20 254.90,264.20 255.45,263.73 256.00,264.20 256.55,264.08 257.10,264.20 257.65,264.20 258.20,264.20 258.75,264.20 259.30,264.20 259.85,263.69 260.40,263.64 260.95,264.20 261.50,264.20 262.05,264.20 262.60,263.97 263.15,264.20 263.70,263.85 264.25,263.20 264.80,264.20 265.35,264.20 265.90,264.20 266.45,264.20 267.00,264.20 267.55,263.46 268.10,264.07 268.65,264.20 269.20,263.83 269.75,263.48 270.30,264.20 270.85,264.20 271.40,264.20 271.95,264.04 272.50,263.83 273.05,263.52 273.60,263.51 274.15,263.52 274.70,263.42 275.25,263.82 275.80,264.20 276.35,264.20 276.90,264.01 277.45,264.20 278.00,263.66 278.55,264.20 279.10,264.20 279.65,263.34 280.20,263.77 280.75,264.01 281.30,263.60 281.85,263.50 282.40,263.89 282.95,264.20 283.50,264.20 284.05,264.20 284.60,264.20 285.15,263.72 285.70,263.03 286.25,263.97 286.80,264.20 287.35,261.73 287.90,263.61 288.45,264.20 289.00,262.53 289.55,262.02 290.10,263.11 290.65,260.81 291.20,262.24 291.75,262.58 292.30,260.39 292.85,258.85 293.40,260.94 293.95,258.56 294.50,258.89 295.05,251.91 295.60,259.23 296.15,253.71 296.70,256.62 297.25,256.27 297.80,253.48 298.35,252.42 298.90,250.79 299.45,252.91 300.00,255.15 300.55,254.52 301.10,250.86 301.65,250.15 302.20,247.05 302.75,249.72 303.30,247.13 303.85,245.10 304.40,249.21 304.95,254.49 305.50,253.07 306.05,253.64 306.60,242.41 307.15,250.86 307.70,242.90 308.25,244.94 308.80,240.41 309.35,242.81 309.90,246.77 310.45,246.97 311.00,245.74 311.55,245.29 312.10,247.93 312.65,245.98 313.20,239.63 313.75,252.36 314.30,244.78 314.85,249.22 315.40,244.88 315.95,242.15 316.50,245.36 317.05,241.65 317.60,250.54 318.15,238.85 318.70,244.95 319.25,238.54 319.80,238.94 320.35,249.90 320.90,239.59 321.45,232.56 322.00,223.00 322.55,226.59 323.10,223.54 323.65,229.89 324.20,209.32 324.75,202.91 325.30,210.44 325.85,208.39 326.40,214.60 326.95,193.39 327.50,176.54 328.05,188.19 328.60,181.38 329.15,184.82 329.70,195.27 330.25,176.00 330.80,196.03 331.35,188.19 331.90,185.27 332.45,182.17 333.00,188.05 333.55,191.08 334.10,202.82 334.65,210.09 335.20,204.43 335.75,213.82 336.30,221.82 336.85,225.63 337.40,225.17 337.95,236.86 338.50,237.85 339.05,242.81 339.60,237.76 340.15,240.33 340.70,237.36 341.25,253.48 341.80,252.88 342.35,250.12 342.90,255.43 343.45,257.34" stroke="#7b22a6"/>
<polyline points="250.50,264.20 251.05,264.20 251.60,264.20 252.15,264.20 252.70,264.20 253.25,264.20 253.80,264.20 254.35,264.20 254.90,264.20 255.45,264.20 256.00,264.20 256.55,264.20 257.10,264.20 257.65,264.20 258.20,264.20 258.75,264.20 259.30,264.20 259.85,264.20 260.40,264.20 260.95,264.20 261.50,264.20 262.05,264.20 262.60,264.20 263.15,264.20 263.70,264.20 264.25,264.20 264.80,264.20 265.35,264.20 265.90,264.20 266.45,264.20 267.00,264.20 267.55,264.20 268.10,264.18 268.65,264.04 269.20,263.21 269.75,259.75 270.30,249.49 270.85,228.25 271.40,199.26 271.95,177.52 272.50,176.00 273.05,184.20 273.60,198.11 274.15,214.47 274.70,230.11 275.25,242.92 275.80,252.10 276.35,257.93 276.90,261.24 277.45,262.93 278.00,263.70 278.55,264.02 279.10,264.14 279.65,264.18 280.20,264.20 280.75,264.20 281.30,264.20 281.85,264.20 282.40,264.20 282.95,264.20 283.50,264.20 284.05,264.20 284.60,264.20 285.15,264.20 285.70,264.20 286.25,264.20 286.80,264.20 287.35,264.20 287.90,264.20 288.45,264.20 289.00,264.20 289.55,264.20 290.10,264.20 290.65,264.20 291.20,264.20 291.75,264.20 292.30,264.20 292.85,264.20 293.40,264.20 293.95,264.20 294.50,264.20 295.05,264.20 295.60,264.20 296.15,264.20 296.70,264.20 297.25,264.20 297.80,264.20 298.35,264.20 298.90,264.20 299.45,264.20 300.00,264.20 300.55,264.20 301.10,264.20 301.65,264.20 302.20,264.20 302.75,264.20 303.30,264.20 303.85,264.20 304.40,264.20 304.95,264.20 305.50,264.20 306.05,264.20 306.60,264.20 307.15,264.20 307.70,264.20 308.25,264.20 308.80,264.20 309.35,264.20 309.90,264.20 310.45,264.20 311.00,264.20 311.55,264.20 312.10,264.20 312.65,264.20 313.20,264.20 313.75,264.20 314.30,264.20 314.85,264.20 315.40,264.20 315.95,264.20 316.50,264.20 317.05,264.20 317.60,264.20 318.15,264.20 318.70,264.20 319.25,264.20 319.80,264.20 320.35,264.20 320.90,264.20 321.45,264.20 322.00,264.20 322.55,264.20 323.10,264.20 323.65,264.20 324.20,264.20 324.75,264.20 325.30,264.20 325.85,264.20 326.40,264.20 326.95,264.20 327.50,264.20 328.05,264.20 328.60,264.20 329.15,264.20 329.70,264.20 330.25,264.20 330.80,264.20 331.35,264.20 331.90,264.20 332.45,264.20 333.00,264.20 333.55,264.20 334.10,264.20 334.65,264.20 335.20,264.20 335.75,264.20 336.30,264.20 336.85,264.20 337.40,264.20 337.95,264.20 338.50,264.20 339.05,264.20 339.60,264.20 340.15,264.20 340.70,264.20 341.25,264.20 341.80,264.20 342.35,264.20 342.90,264.20 343.45,264.20" stroke="#ee5569" stroke-width="0.8"/>
</g>
<rect x="250.5" y="171.4" width="92.39999999999998" height="92.79999999999998" fill="none" stroke="#111" stroke-width="1.1"/>
<line x1="247.10" y1="264.50" x2="250.50" y2="264.50" stroke="#111" stroke-width="0.9"/>
<text x="245.10" y="267.00" font-size="6.4" text-anchor="end" fill="#111111" stroke="#111111" stroke-width="0.1" textLength="4.40" lengthAdjust="spacingAndGlyphs">0</text>
<line x1="248.70" y1="260.50" x2="250.50" y2="260.50" stroke="#111" stroke-width="0.7"/>
<line x1="248.70" y1="257.50" x2="250.50" y2="257.50" stroke="#111" stroke-width="0.7"/>
<line x1="248.70" y1="253.50" x2="250.50" y2="253.50" stroke="#111" stroke-width="0.7"/>
<line x1="248.70" y1="250.50" x2="250.50" y2="250.50" stroke="#111" stroke-width="0.7"/>
<line x1="247.10" y1="246.50" x2="250.50" y2="246.50" stroke="#111" stroke-width="0.9"/>
<text x="245.10" y="249.36" font-size="6.4" text-anchor="end" fill="#111111" stroke="#111111" stroke-width="0.1" textLength="9.20" lengthAdjust="spacingAndGlyphs">20</text>
<line x1="248.70" y1="243.50" x2="250.50" y2="243.50" stroke="#111" stroke-width="0.7"/>
<line x1="248.70" y1="239.50" x2="250.50" y2="239.50" stroke="#111" stroke-width="0.7"/>
<line x1="248.70" y1="235.50" x2="250.50" y2="235.50" stroke="#111" stroke-width="0.7"/>
<line x1="248.70" y1="232.50" x2="250.50" y2="232.50" stroke="#111" stroke-width="0.7"/>
<line x1="247.10" y1="228.50" x2="250.50" y2="228.50" stroke="#111" stroke-width="0.9"/>
<text x="245.10" y="231.72" font-size="6.4" text-anchor="end" fill="#111111" stroke="#111111" stroke-width="0.1" textLength="9.20" lengthAdjust="spacingAndGlyphs">40</text>
<line x1="248.70" y1="225.50" x2="250.50" y2="225.50" stroke="#111" stroke-width="0.7"/>
<line x1="248.70" y1="221.50" x2="250.50" y2="221.50" stroke="#111" stroke-width="0.7"/>
<line x1="248.70" y1="218.50" x2="250.50" y2="218.50" stroke="#111" stroke-width="0.7"/>
<line x1="248.70" y1="214.50" x2="250.50" y2="214.50" stroke="#111" stroke-width="0.7"/>
<line x1="247.10" y1="211.50" x2="250.50" y2="211.50" stroke="#111" stroke-width="0.9"/>
<text x="245.10" y="214.08" font-size="6.4" text-anchor="end" fill="#111111" stroke="#111111" stroke-width="0.1" textLength="9.20" lengthAdjust="spacingAndGlyphs">60</text>
<line x1="248.70" y1="207.50" x2="250.50" y2="207.50" stroke="#111" stroke-width="0.7"/>
<line x1="248.70" y1="204.50" x2="250.50" y2="204.50" stroke="#111" stroke-width="0.7"/>
<line x1="248.70" y1="200.50" x2="250.50" y2="200.50" stroke="#111" stroke-width="0.7"/>
<line x1="248.70" y1="197.50" x2="250.50" y2="197.50" stroke="#111" stroke-width="0.7"/>
<line x1="247.10" y1="193.50" x2="250.50" y2="193.50" stroke="#111" stroke-width="0.9"/>
<text x="245.10" y="196.44" font-size="6.4" text-anchor="end" fill="#111111" stroke="#111111" stroke-width="0.1" textLength="9.20" lengthAdjust="spacingAndGlyphs">80</text>
<line x1="248.70" y1="190.50" x2="250.50" y2="190.50" stroke="#111" stroke-width="0.7"/>
<line x1="248.70" y1="186.50" x2="250.50" y2="186.50" stroke="#111" stroke-width="0.7"/>
<line x1="248.70" y1="183.50" x2="250.50" y2="183.50" stroke="#111" stroke-width="0.7"/>
<line x1="248.70" y1="179.50" x2="250.50" y2="179.50" stroke="#111" stroke-width="0.7"/>
<line x1="247.10" y1="176.50" x2="250.50" y2="176.50" stroke="#111" stroke-width="0.9"/>
<text x="245.10" y="178.80" font-size="6.4" text-anchor="end" fill="#111111" stroke="#111111" stroke-width="0.1" textLength="13.80" lengthAdjust="spacingAndGlyphs">100</text>
<text x="254.6" y="165.2" font-size="9.1" textLength="83.9" lengthAdjust="spacingAndGlyphs" fill="#111111" stroke="#111111" stroke-width="0.1">CAL-1 (unstimulated)</text>
<text x="289.10" y="288.60" font-size="10.4" fill="#111111" stroke="#111111" stroke-width="0.25" textLength="14.90" lengthAdjust="spacingAndGlyphs">CD56</text>
<text x="247.40" y="275.20" font-size="6.3" fill="#111111" stroke="#111111" stroke-width="0.1" textLength="12.80" lengthAdjust="spacingAndGlyphs">−10</text>
<text x="260.50" y="271.60" font-size="4.6" fill="#111111" stroke="#111111" stroke-width="0.1">3</text>
<text x="270.40" y="275.20" font-size="6.3" fill="#111111" stroke="#111111" stroke-width="0.1" textLength="4.40" lengthAdjust="spacingAndGlyphs">0</text>
<text x="280.80" y="275.20" font-size="6.3" fill="#111111" stroke="#111111" stroke-width="0.1" textLength="8.20" lengthAdjust="spacingAndGlyphs">10</text>
<text x="289.20" y="271.60" font-size="4.6" fill="#111111" stroke="#111111" stroke-width="0.1">3</text>
<text x="306.20" y="275.20" font-size="6.3" fill="#111111" stroke="#111111" stroke-width="0.1" textLength="8.20" lengthAdjust="spacingAndGlyphs">10</text>
<text x="314.60" y="271.60" font-size="4.6" fill="#111111" stroke="#111111" stroke-width="0.1">4</text>
<text x="328.40" y="275.20" font-size="6.3" fill="#111111" stroke="#111111" stroke-width="0.1" textLength="8.20" lengthAdjust="spacingAndGlyphs">10</text>
<text x="336.80" y="271.60" font-size="4.6" fill="#111111" stroke="#111111" stroke-width="0.1">5</text>
<line x1="256.50" y1="264.20" x2="256.50" y2="266.60" stroke="#111" stroke-width="0.8"/>
<line x1="272.50" y1="264.20" x2="272.50" y2="266.60" stroke="#111" stroke-width="0.8"/>
<line x1="285.50" y1="264.20" x2="285.50" y2="266.60" stroke="#111" stroke-width="0.8"/>
<line x1="310.50" y1="264.20" x2="310.50" y2="266.60" stroke="#111" stroke-width="0.8"/>
<line x1="332.50" y1="264.20" x2="332.50" y2="266.60" stroke="#111" stroke-width="0.8"/>
<line x1="292.50" y1="264.20" x2="292.50" y2="265.60" stroke="#111" stroke-width="0.6"/>
<line x1="297.50" y1="264.20" x2="297.50" y2="265.60" stroke="#111" stroke-width="0.6"/>
<line x1="300.50" y1="264.20" x2="300.50" y2="265.60" stroke="#111" stroke-width="0.6"/>
<line x1="302.50" y1="264.20" x2="302.50" y2="265.60" stroke="#111" stroke-width="0.6"/>
<line x1="304.50" y1="264.20" x2="304.50" y2="265.60" stroke="#111" stroke-width="0.6"/>
<line x1="306.50" y1="264.20" x2="306.50" y2="265.60" stroke="#111" stroke-width="0.6"/>
<line x1="307.50" y1="264.20" x2="307.50" y2="265.60" stroke="#111" stroke-width="0.6"/>
<line x1="309.50" y1="264.20" x2="309.50" y2="265.60" stroke="#111" stroke-width="0.6"/>
<line x1="317.50" y1="264.20" x2="317.50" y2="265.60" stroke="#111" stroke-width="0.6"/>
<line x1="320.50" y1="264.20" x2="320.50" y2="265.60" stroke="#111" stroke-width="0.6"/>
<line x1="323.50" y1="264.20" x2="323.50" y2="265.60" stroke="#111" stroke-width="0.6"/>
<line x1="325.50" y1="264.20" x2="325.50" y2="265.60" stroke="#111" stroke-width="0.6"/>
<line x1="327.50" y1="264.20" x2="327.50" y2="265.60" stroke="#111" stroke-width="0.6"/>
<line x1="329.50" y1="264.20" x2="329.50" y2="265.60" stroke="#111" stroke-width="0.6"/>
<line x1="330.50" y1="264.20" x2="330.50" y2="265.60" stroke="#111" stroke-width="0.6"/>
<line x1="331.50" y1="264.20" x2="331.50" y2="265.60" stroke="#111" stroke-width="0.6"/>
<line x1="339.50" y1="264.20" x2="339.50" y2="265.60" stroke="#111" stroke-width="0.6"/>
<line x1="258.50" y1="264.20" x2="258.50" y2="265.60" stroke="#111" stroke-width="0.6"/>
<line x1="260.50" y1="264.20" x2="260.50" y2="265.60" stroke="#111" stroke-width="0.6"/>
<line x1="262.50" y1="264.20" x2="262.50" y2="265.60" stroke="#111" stroke-width="0.6"/>
<line x1="264.50" y1="264.20" x2="264.50" y2="265.60" stroke="#111" stroke-width="0.6"/>
<line x1="266.50" y1="264.20" x2="266.50" y2="265.60" stroke="#111" stroke-width="0.6"/>
<line x1="268.50" y1="264.20" x2="268.50" y2="265.60" stroke="#111" stroke-width="0.6"/>
<line x1="270.50" y1="264.20" x2="270.50" y2="265.60" stroke="#111" stroke-width="0.6"/>
<line x1="274.50" y1="264.20" x2="274.50" y2="265.60" stroke="#111" stroke-width="0.6"/>
<line x1="276.50" y1="264.20" x2="276.50" y2="265.60" stroke="#111" stroke-width="0.6"/>
<line x1="278.50" y1="264.20" x2="278.50" y2="265.60" stroke="#111" stroke-width="0.6"/>
<line x1="280.50" y1="264.20" x2="280.50" y2="265.60" stroke="#111" stroke-width="0.6"/>
<line x1="282.50" y1="264.20" x2="282.50" y2="265.60" stroke="#111" stroke-width="0.6"/>
<clipPath id="clip366"><rect x="366.9" y="171.4" width="92.60000000000002" height="92.79999999999998"/></clipPath>
<g clip-path="url(#clip366)" fill="none" stroke-width="0.9" stroke-linejoin="round">
<polyline points="367.00,264.02 367.55,264.20 368.10,263.88 368.65,262.94 369.20,264.20 369.75,263.77 370.30,264.04 370.85,264.20 371.40,263.61 371.95,264.20 372.50,264.13 373.05,263.57 373.60,264.20 374.15,264.20 374.70,264.15 375.25,264.20 375.80,263.53 376.35,264.20 376.90,263.82 377.45,264.20 378.00,263.91 378.55,264.20 379.10,264.20 379.65,264.20 380.20,264.20 380.75,264.20 381.30,263.54 381.85,264.20 382.40,264.20 382.95,263.58 383.50,264.15 384.05,263.53 384.60,264.06 385.15,264.20 385.70,264.20 386.25,263.67 386.80,263.79 387.35,264.20 387.90,264.18 388.45,264.20 389.00,264.20 389.55,263.37 390.10,264.20 390.65,264.20 391.20,264.20 391.75,263.89 392.30,263.92 392.85,264.20 393.40,264.20 393.95,264.19 394.50,264.20 395.05,264.20 395.60,263.85 396.15,264.20 396.70,264.04 397.25,263.67 397.80,263.92 398.35,264.19 398.90,263.28 399.45,263.91 400.00,264.20 400.55,263.88 401.10,264.02 401.65,264.20 402.20,264.17 402.75,264.20 403.30,264.20 403.85,264.20 404.40,264.20 404.95,264.20 405.50,264.20 406.05,264.20 406.60,264.20 407.15,264.14 407.70,264.20 408.25,263.90 408.80,264.20 409.35,264.20 409.90,263.58 410.45,264.20 411.00,264.20 411.55,263.63 412.10,264.20 412.65,264.17 413.20,263.91 413.75,263.51 414.30,264.20 414.85,264.20 415.40,264.20 415.95,264.20 416.50,264.08 417.05,264.01 417.60,263.30 418.15,263.90 418.70,263.15 419.25,262.82 419.80,263.49 420.35,262.68 420.90,261.23 421.45,262.12 422.00,262.79 422.55,262.04 423.10,262.69 423.65,261.20 424.20,260.25 424.75,261.94 425.30,260.95 425.85,258.98 426.40,260.78 426.95,259.57 427.50,260.99 428.05,260.45 428.60,259.73 429.15,255.37 429.70,259.02 430.25,258.95 430.80,258.74 431.35,257.81 431.90,256.12 432.45,256.59 433.00,252.92 433.55,255.82 434.10,253.08 434.65,254.75 435.20,253.50 435.75,256.97 436.30,253.43 436.85,252.31 437.40,251.53 437.95,254.85 438.50,245.57 439.05,246.98 439.60,244.95 440.15,241.89 440.70,238.96 441.25,233.57 441.80,236.14 442.35,231.24 442.90,222.31 443.45,218.54 444.00,216.39 444.55,212.81 445.10,209.60 445.65,201.24 446.20,190.32 446.75,198.26 447.30,180.21 447.85,180.64 448.40,185.37 448.95,176.00 449.50,187.90 450.05,188.80 450.60,186.23 451.15,182.32 451.70,184.53 452.25,189.53 452.80,191.08 453.35,208.71 453.90,201.39 454.45,217.29 455.00,220.28 455.55,225.66 456.10,234.58 456.65,240.70 457.20,244.31 457.75,245.78 458.30,248.20 458.85,251.70 459.40,257.48 459.95,259.05" stroke="#111111"/>
<polyline points="367.00,264.20 367.55,264.02 368.10,264.20 368.65,263.70 369.20,264.20 369.75,264.20 370.30,264.06 370.85,263.79 371.40,264.06 371.95,263.78 372.50,264.15 373.05,263.71 373.60,263.70 374.15,264.20 374.70,263.62 375.25,264.13 375.80,264.17 376.35,264.20 376.90,264.20 377.45,263.89 378.00,264.20 378.55,263.94 379.10,264.06 379.65,264.09 380.20,264.20 380.75,264.20 381.30,263.94 381.85,264.20 382.40,264.16 382.95,264.20 383.50,263.93 384.05,264.20 384.60,263.85 385.15,264.20 385.70,263.92 386.25,264.20 386.80,263.88 387.35,264.20 387.90,264.20 388.45,263.30 389.00,264.20 389.55,264.20 390.10,264.20 390.65,264.20 391.20,263.72 391.75,263.51 392.30,264.20 392.85,264.20 393.40,263.73 393.95,263.76 394.50,263.87 395.05,263.74 395.60,264.20 396.15,264.20 396.70,264.20 397.25,264.20 397.80,263.81 398.35,264.20 398.90,263.29 399.45,264.17 400.00,264.20 400.55,263.88 401.10,263.48 401.65,264.00 402.20,264.20 402.75,264.05 403.30,263.65 403.85,264.20 404.40,264.20 404.95,263.79 405.50,264.13 406.05,264.20 406.60,264.20 407.15,264.20 407.70,264.06 408.25,264.13 408.80,263.70 409.35,263.87 409.90,264.20 410.45,263.97 411.00,263.75 411.55,263.91 412.10,263.66 412.65,264.20 413.20,264.20 413.75,263.60 414.30,264.20 414.85,264.20 415.40,263.41 415.95,264.06 416.50,263.82 417.05,264.20 417.60,264.20 418.15,264.05 418.70,263.50 419.25,262.91 419.80,264.20 420.35,262.29 420.90,263.59 421.45,263.37 422.00,261.70 422.55,262.15 423.10,263.34 423.65,259.75 424.20,262.28 424.75,260.84 425.30,260.62 425.85,258.89 426.40,260.88 426.95,258.74 427.50,260.75 428.05,257.96 428.60,260.30 429.15,259.48 429.70,255.90 430.25,257.97 430.80,258.03 431.35,254.43 431.90,257.13 432.45,258.79 433.00,255.96 433.55,258.90 434.10,254.59 434.65,254.02 435.20,256.76 435.75,256.35 436.30,254.14 436.85,253.63 437.40,254.75 437.95,250.18 438.50,254.86 439.05,249.39 439.60,247.38 440.15,244.76 440.70,240.41 441.25,242.28 441.80,233.02 442.35,232.03 442.90,229.92 443.45,228.76 444.00,223.87 444.55,212.73 445.10,214.24 445.65,204.93 446.20,195.53 446.75,191.37 447.30,184.63 447.85,191.20 448.40,192.81 448.95,178.89 449.50,181.39 450.05,176.00 450.60,182.40 451.15,177.01 451.70,181.67 452.25,186.28 452.80,192.31 453.35,198.52 453.90,205.52 454.45,212.03 455.00,215.34 455.55,227.81 456.10,225.57 456.65,237.65 457.20,239.34 457.75,246.83 458.30,250.89 458.85,249.24 459.40,256.56 459.95,260.05" stroke="#1d6b2a"/>
<polyline points="367.00,264.20 367.55,264.20 368.10,263.15 368.65,264.10 369.20,263.75 369.75,264.20 370.30,264.03 370.85,263.87 371.40,263.33 371.95,264.20 372.50,263.91 373.05,264.05 373.60,264.20 374.15,264.20 374.70,264.20 375.25,264.20 375.80,263.91 376.35,263.94 376.90,264.20 377.45,264.20 378.00,263.48 378.55,264.07 379.10,263.71 379.65,263.52 380.20,264.20 380.75,263.81 381.30,264.20 381.85,264.20 382.40,264.20 382.95,264.20 383.50,263.66 384.05,264.14 384.60,264.20 385.15,264.20 385.70,264.03 386.25,264.20 386.80,264.20 387.35,264.20 387.90,264.20 388.45,264.20 389.00,264.20 389.55,263.23 390.10,263.56 390.65,263.98 391.20,264.20 391.75,263.14 392.30,264.04 392.85,264.20 393.40,264.05 393.95,264.05 394.50,263.52 395.05,264.20 395.60,263.18 396.15,264.20 396.70,263.86 397.25,264.20 397.80,263.32 398.35,264.20 398.90,264.20 399.45,263.75 400.00,263.59 400.55,264.20 401.10,264.20 401.65,264.20 402.20,264.13 402.75,264.20 403.30,264.20 403.85,264.20 404.40,264.20 404.95,264.20 405.50,263.93 406.05,263.45 406.60,264.20 407.15,264.20 407.70,264.20 408.25,263.91 408.80,264.20 409.35,264.19 409.90,264.20 410.45,263.73 411.00,263.98 411.55,264.07 412.10,263.76 412.65,263.99 413.20,264.20 413.75,263.38 414.30,263.43 414.85,263.58 415.40,262.61 415.95,262.19 416.50,263.92 417.05,263.49 417.60,260.92 418.15,260.65 418.70,262.79 419.25,263.07 419.80,262.05 420.35,261.50 420.90,262.78 421.45,259.80 422.00,261.56 422.55,261.02 423.10,256.51 423.65,259.06 424.20,257.26 424.75,255.16 425.30,254.12 425.85,256.17 426.40,254.72 426.95,256.33 427.50,249.36 428.05,251.64 428.60,255.82 429.15,252.52 429.70,250.26 430.25,250.61 430.80,246.62 431.35,247.68 431.90,252.89 432.45,251.50 433.00,254.78 433.55,250.33 434.10,250.48 434.65,242.96 435.20,250.23 435.75,256.35 436.30,251.75 436.85,248.80 437.40,252.29 437.95,250.17 438.50,247.36 439.05,243.46 439.60,243.48 440.15,244.18 440.70,235.29 441.25,238.02 441.80,234.99 442.35,235.93 442.90,229.88 443.45,219.09 444.00,227.16 444.55,215.07 445.10,206.64 445.65,209.15 446.20,201.73 446.75,206.77 447.30,188.09 447.85,186.51 448.40,189.87 448.95,201.54 449.50,195.55 450.05,181.05 450.60,176.00 451.15,186.73 451.70,182.39 452.25,197.77 452.80,198.78 453.35,202.05 453.90,204.56 454.45,221.06 455.00,212.91 455.55,216.81 456.10,234.18 456.65,239.76 457.20,237.24 457.75,245.30 458.30,254.53 458.85,247.71 459.40,252.55 459.95,256.48" stroke="#d28e8e"/>
<polyline points="367.00,263.22 367.55,264.14 368.10,264.20 368.65,264.15 369.20,264.20 369.75,264.20 370.30,264.02 370.85,264.20 371.40,264.20 371.95,263.43 372.50,263.80 373.05,263.83 373.60,263.96 374.15,263.98 374.70,263.53 375.25,264.20 375.80,263.34 376.35,264.20 376.90,264.20 377.45,264.20 378.00,264.20 378.55,263.96 379.10,263.53 379.65,264.20 380.20,264.20 380.75,264.20 381.30,264.20 381.85,264.20 382.40,264.17 382.95,264.20 383.50,264.15 384.05,264.19 384.60,264.20 385.15,264.20 385.70,264.20 386.25,263.34 386.80,264.20 387.35,263.48 387.90,263.92 388.45,264.20 389.00,264.20 389.55,263.72 390.10,263.40 390.65,264.20 391.20,264.20 391.75,263.71 392.30,264.04 392.85,263.28 393.40,264.20 393.95,263.95 394.50,264.20 395.05,263.23 395.60,264.20 396.15,264.20 396.70,264.20 397.25,264.20 397.80,263.31 398.35,264.20 398.90,264.20 399.45,263.93 400.00,263.47 400.55,264.20 401.10,263.72 401.65,263.96 402.20,264.20 402.75,264.16 403.30,264.18 403.85,264.20 404.40,263.63 404.95,264.20 405.50,263.65 406.05,263.75 406.60,264.20 407.15,264.20 407.70,264.20 408.25,263.95 408.80,263.82 409.35,264.02 409.90,263.68 410.45,264.20 411.00,264.00 411.55,264.20 412.10,263.72 412.65,263.97 413.20,264.20 413.75,263.44 414.30,263.61 414.85,264.20 415.40,263.80 415.95,264.20 416.50,263.12 417.05,262.19 417.60,263.81 418.15,263.34 418.70,263.45 419.25,262.88 419.80,262.48 420.35,261.74 420.90,263.55 421.45,260.98 422.00,263.21 422.55,261.77 423.10,260.54 423.65,260.76 424.20,262.49 424.75,261.98 425.30,261.44 425.85,260.62 426.40,258.63 426.95,261.91 427.50,259.00 428.05,258.48 428.60,258.26 429.15,258.11 429.70,256.03 430.25,257.50 430.80,256.55 431.35,256.79 431.90,254.19 432.45,260.86 433.00,254.42 433.55,257.08 434.10,256.73 434.65,257.71 435.20,259.17 435.75,255.26 436.30,255.17 436.85,251.32 437.40,255.14 437.95,245.95 438.50,247.36 439.05,246.91 439.60,246.14 440.15,243.90 440.70,242.35 441.25,236.99 441.80,231.18 442.35,228.03 442.90,229.61 443.45,219.93 444.00,218.66 444.55,208.64 445.10,194.55 445.65,196.89 446.20,198.17 446.75,202.41 447.30,197.93 447.85,196.97 448.40,179.27 448.95,187.43 449.50,181.21 450.05,185.68 450.60,182.11 451.15,176.00 451.70,192.75 452.25,194.92 452.80,202.75 453.35,198.82 453.90,215.30 454.45,221.75 455.00,228.74 455.55,234.30 456.10,231.89 456.65,229.54 457.20,246.74 457.75,244.66 458.30,250.26 458.85,256.39 459.40,256.78 459.95,258.56" stroke="#f39a2c"/>
<polyline points="367.00,264.20 367.55,263.38 368.10,264.20 368.65,264.04 369.20,264.06 369.75,264.20 370.30,264.14 370.85,263.83 371.40,264.14 371.95,264.02 372.50,263.91 373.05,264.20 373.60,263.57 374.15,263.23 374.70,263.78 375.25,263.77 375.80,264.20 376.35,264.20 376.90,264.20 377.45,264.20 378.00,263.79 378.55,264.20 379.10,264.20 379.65,264.20 380.20,264.20 380.75,264.16 381.30,264.20 381.85,264.20 382.40,263.40 382.95,264.20 383.50,264.20 384.05,264.20 384.60,263.69 385.15,263.31 385.70,264.06 386.25,264.20 386.80,264.20 387.35,263.75 387.90,264.20 388.45,263.58 389.00,263.60 389.55,264.17 390.10,263.93 390.65,263.88 391.20,263.54 391.75,264.20 392.30,263.70 392.85,264.20 393.40,264.20 393.95,264.16 394.50,264.20 395.05,264.20 395.60,264.20 396.15,264.20 396.70,263.58 397.25,263.37 397.80,263.92 398.35,263.70 398.90,264.20 399.45,264.20 400.00,264.08 400.55,264.20 401.10,264.20 401.65,264.16 402.20,264.20 402.75,264.20 403.30,264.03 403.85,264.20 404.40,263.76 404.95,264.20 405.50,264.20 406.05,264.14 406.60,264.20 407.15,264.20 407.70,264.20 408.25,263.85 408.80,263.89 409.35,263.61 409.90,264.20 410.45,264.20 411.00,264.20 411.55,264.03 412.10,264.20 412.65,264.20 413.20,263.69 413.75,263.92 414.30,264.20 414.85,263.34 415.40,263.43 415.95,264.05 416.50,263.32 417.05,264.02 417.60,262.93 418.15,263.59 418.70,263.86 419.25,263.48 419.80,263.65 420.35,262.79 420.90,262.64 421.45,262.58 422.00,262.94 422.55,264.20 423.10,261.93 423.65,263.84 424.20,261.30 424.75,260.01 425.30,260.76 425.85,261.34 426.40,260.83 426.95,260.51 427.50,260.84 428.05,260.66 428.60,260.93 429.15,257.47 429.70,259.06 430.25,257.23 430.80,258.92 431.35,258.11 431.90,258.23 432.45,256.80 433.00,255.76 433.55,256.42 434.10,257.71 434.65,257.42 435.20,251.76 435.75,255.03 436.30,254.14 436.85,248.87 437.40,248.29 437.95,248.03 438.50,248.74 439.05,238.44 439.60,241.82 440.15,238.49 440.70,237.92 441.25,239.36 441.80,235.75 442.35,224.79 442.90,220.73 443.45,219.45 444.00,219.85 444.55,217.27 445.10,207.56 445.65,209.92 446.20,193.35 446.75,188.62 447.30,176.00 447.85,185.27 448.40,192.59 448.95,193.50 449.50,209.01 450.05,192.81 450.60,192.72 451.15,189.76 451.70,196.61 452.25,202.35 452.80,210.40 453.35,214.62 453.90,217.67 454.45,234.42 455.00,237.50 455.55,245.63 456.10,240.75 456.65,246.11 457.20,251.13 457.75,258.05 458.30,257.51 458.85,259.89 459.40,260.75 459.95,262.05" stroke="#8ccf4c"/>
<polyline points="367.00,263.98 367.55,264.20 368.10,263.84 368.65,264.10 369.20,264.20 369.75,264.20 370.30,264.20 370.85,263.85 371.40,264.20 371.95,264.07 372.50,264.20 373.05,264.20 373.60,263.81 374.15,264.20 374.70,263.91 375.25,264.02 375.80,264.20 376.35,264.20 376.90,264.20 377.45,264.20 378.00,264.20 378.55,263.89 379.10,264.20 379.65,264.04 380.20,264.20 380.75,264.07 381.30,264.20 381.85,264.20 382.40,263.95 382.95,264.18 383.50,264.20 384.05,264.20 384.60,264.13 385.15,264.05 385.70,264.20 386.25,264.20 386.80,263.97 387.35,263.14 387.90,264.20 388.45,264.06 389.00,264.04 389.55,264.20 390.10,264.15 390.65,264.20 391.20,263.61 391.75,264.20 392.30,264.20 392.85,264.20 393.40,264.13 393.95,264.20 394.50,264.20 395.05,264.20 395.60,264.20 396.15,263.87 396.70,263.36 397.25,263.90 397.80,264.08 398.35,263.70 398.90,263.77 399.45,263.49 400.00,263.74 400.55,264.20 401.10,264.09 401.65,264.12 402.20,264.07 402.75,264.11 403.30,264.20 403.85,264.20 404.40,264.20 404.95,264.20 405.50,264.16 406.05,264.19 406.60,264.20 407.15,263.89 407.70,263.81 408.25,264.13 408.80,263.46 409.35,263.36 409.90,264.20 410.45,263.69 411.00,263.93 411.55,263.92 412.10,263.68 412.65,264.20 413.20,264.20 413.75,264.20 414.30,264.20 414.85,263.95 415.40,264.20 415.95,264.20 416.50,263.44 417.05,263.68 417.60,263.34 418.15,264.20 418.70,263.85 419.25,263.60 419.80,263.06 420.35,263.40 420.90,262.01 421.45,262.66 422.00,262.41 422.55,262.21 423.10,261.29 423.65,262.31 424.20,260.31 424.75,260.79 425.30,260.90 425.85,260.78 426.40,259.89 426.95,258.93 427.50,258.72 428.05,259.24 428.60,258.21 429.15,259.08 429.70,257.01 430.25,258.76 430.80,261.89 431.35,255.86 431.90,257.63 432.45,259.58 433.00,257.45 433.55,258.32 434.10,251.97 434.65,254.48 435.20,258.10 435.75,252.66 436.30,253.75 436.85,246.84 437.40,252.83 437.95,254.57 438.50,246.17 439.05,245.15 439.60,242.84 440.15,246.07 440.70,233.75 441.25,225.24 441.80,236.05 442.35,218.98 442.90,222.63 443.45,204.46 444.00,209.38 444.55,208.41 445.10,197.47 445.65,196.81 446.20,199.78 446.75,189.35 447.30,194.16 447.85,200.11 448.40,176.00 448.95,189.99 449.50,192.04 450.05,188.18 450.60,202.44 451.15,205.25 451.70,205.46 452.25,211.24 452.80,214.40 453.35,215.96 453.90,229.29 454.45,231.29 455.00,236.53 455.55,246.94 456.10,247.14 456.65,253.75 457.20,252.11 457.75,256.00 458.30,258.76 458.85,262.13 459.40,261.29 459.95,263.00" stroke="#2fb6e6"/>
<polyline points="367.00,263.79 367.55,264.20 368.10,264.20 368.65,263.66 369.20,263.78 369.75,264.20 370.30,263.53 370.85,264.20 371.40,264.20 371.95,264.13 372.50,264.20 373.05,264.20 373.60,264.20 374.15,263.31 374.70,263.33 375.25,264.20 375.80,263.27 376.35,264.20 376.90,263.98 377.45,263.69 378.00,264.03 378.55,262.80 379.10,264.06 379.65,264.20 380.20,263.44 380.75,264.20 381.30,264.20 381.85,264.20 382.40,263.62 382.95,263.73 383.50,263.74 384.05,263.63 384.60,263.22 385.15,264.20 385.70,263.66 386.25,264.20 386.80,264.20 387.35,263.59 387.90,263.97 388.45,264.20 389.00,263.99 389.55,264.20 390.10,264.20 390.65,263.95 391.20,264.20 391.75,264.20 392.30,264.20 392.85,263.17 393.40,264.20 393.95,264.07 394.50,263.85 395.05,263.83 395.60,264.20 396.15,264.20 396.70,264.12 397.25,263.74 397.80,264.20 398.35,264.20 398.90,263.62 399.45,263.56 400.00,263.98 400.55,264.20 401.10,263.96 401.65,264.14 402.20,263.71 402.75,264.20 403.30,264.13 403.85,264.20 404.40,264.20 404.95,264.07 405.50,264.17 406.05,264.20 406.60,263.95 407.15,264.20 407.70,264.20 408.25,263.91 408.80,263.98 409.35,263.51 409.90,264.20 410.45,264.20 411.00,263.92 411.55,263.76 412.10,262.75 412.65,263.57 413.20,264.20 413.75,263.32 414.30,264.20 414.85,264.20 415.40,261.43 415.95,263.03 416.50,262.47 417.05,262.37 417.60,260.72 418.15,262.12 418.70,260.61 419.25,263.28 419.80,263.58 420.35,258.85 420.90,258.20 421.45,259.33 422.00,259.33 422.55,258.92 423.10,260.17 423.65,254.73 424.20,256.05 424.75,255.77 425.30,255.46 425.85,253.08 426.40,253.88 426.95,252.61 427.50,257.51 428.05,252.15 428.60,246.61 429.15,254.35 429.70,252.78 430.25,249.24 430.80,248.71 431.35,249.52 431.90,256.59 432.45,249.52 433.00,254.90 433.55,253.59 434.10,248.87 434.65,251.48 435.20,247.48 435.75,239.06 436.30,246.66 436.85,246.14 437.40,251.15 437.95,249.24 438.50,249.65 439.05,246.04 439.60,246.60 440.15,242.63 440.70,238.05 441.25,239.09 441.80,238.26 442.35,234.75 442.90,220.76 443.45,218.93 444.00,208.52 444.55,203.77 445.10,208.68 445.65,197.27 446.20,208.58 446.75,176.82 447.30,181.39 447.85,189.39 448.40,194.59 448.95,180.30 449.50,197.56 450.05,188.16 450.60,176.00 451.15,183.15 451.70,190.48 452.25,183.02 452.80,202.97 453.35,198.54 453.90,209.93 454.45,218.19 455.00,216.07 455.55,230.62 456.10,220.82 456.65,238.97 457.20,232.37 457.75,249.67 458.30,246.99 458.85,256.06 459.40,258.67 459.95,256.77" stroke="#7b22a6"/>
<polyline points="367.00,264.20 367.55,264.20 368.10,264.20 368.65,264.20 369.20,264.20 369.75,264.20 370.30,264.20 370.85,264.20 371.40,264.20 371.95,264.20 372.50,264.20 373.05,264.20 373.60,264.20 374.15,264.20 374.70,264.20 375.25,264.20 375.80,264.20 376.35,264.20 376.90,264.20 377.45,264.20 378.00,264.20 378.55,264.20 379.10,264.20 379.65,264.20 380.20,264.20 380.75,264.20 381.30,264.20 381.85,264.20 382.40,264.20 382.95,264.20 383.50,264.20 384.05,264.20 384.60,264.19 385.15,264.15 385.70,263.82 386.25,262.19 386.80,256.36 387.35,241.59 387.90,216.04 388.45,188.38 389.00,176.00 389.55,178.97 390.10,187.31 390.65,199.42 391.20,213.25 391.75,226.78 392.30,238.54 392.85,247.77 393.40,254.38 393.95,258.72 394.50,261.34 395.05,262.81 395.60,263.57 396.15,263.93 396.70,264.09 397.25,264.16 397.80,264.19 398.35,264.20 398.90,264.20 399.45,264.20 400.00,264.20 400.55,264.20 401.10,264.20 401.65,264.20 402.20,264.20 402.75,264.20 403.30,264.20 403.85,264.20 404.40,264.20 404.95,264.20 405.50,264.20 406.05,264.20 406.60,264.20 407.15,264.20 407.70,264.20 408.25,264.20 408.80,264.20 409.35,264.20 409.90,264.20 410.45,264.20 411.00,264.20 411.55,264.20 412.10,264.20 412.65,264.20 413.20,264.20 413.75,264.20 414.30,264.20 414.85,264.20 415.40,264.20 415.95,264.20 416.50,264.20 417.05,264.20 417.60,264.20 418.15,264.20 418.70,264.20 419.25,264.20 419.80,264.20 420.35,264.20 420.90,264.20 421.45,264.20 422.00,264.20 422.55,264.20 423.10,264.20 423.65,264.20 424.20,264.20 424.75,264.20 425.30,264.20 425.85,264.20 426.40,264.20 426.95,264.20 427.50,264.20 428.05,264.20 428.60,264.20 429.15,264.20 429.70,264.20 430.25,264.20 430.80,264.20 431.35,264.20 431.90,264.20 432.45,264.20 433.00,264.20 433.55,264.20 434.10,264.20 434.65,264.20 435.20,264.20 435.75,264.20 436.30,264.20 436.85,264.20 437.40,264.20 437.95,264.20 438.50,264.20 439.05,264.20 439.60,264.20 440.15,264.20 440.70,264.20 441.25,264.20 441.80,264.20 442.35,264.20 442.90,264.20 443.45,264.20 444.00,264.20 444.55,264.20 445.10,264.20 445.65,264.20 446.20,264.20 446.75,264.20 447.30,264.20 447.85,264.20 448.40,264.20 448.95,264.20 449.50,264.20 450.05,264.20 450.60,264.20 451.15,264.20 451.70,264.20 452.25,264.20 452.80,264.20 453.35,264.20 453.90,264.20 454.45,264.20 455.00,264.20 455.55,264.20 456.10,264.20 456.65,264.20 457.20,264.20 457.75,264.20 458.30,264.20 458.85,264.20 459.40,264.20 459.95,264.20" stroke="#ee5569" stroke-width="0.8"/>
</g>
<rect x="366.9" y="171.4" width="92.60000000000002" height="92.79999999999998" fill="none" stroke="#111" stroke-width="1.1"/>
<line x1="363.50" y1="264.50" x2="366.90" y2="264.50" stroke="#111" stroke-width="0.9"/>
<text x="361.50" y="267.00" font-size="6.4" text-anchor="end" fill="#111111" stroke="#111111" stroke-width="0.1" textLength="4.40" lengthAdjust="spacingAndGlyphs">0</text>
<line x1="365.10" y1="260.50" x2="366.90" y2="260.50" stroke="#111" stroke-width="0.7"/>
<line x1="365.10" y1="257.50" x2="366.90" y2="257.50" stroke="#111" stroke-width="0.7"/>
<line x1="365.10" y1="253.50" x2="366.90" y2="253.50" stroke="#111" stroke-width="0.7"/>
<line x1="365.10" y1="250.50" x2="366.90" y2="250.50" stroke="#111" stroke-width="0.7"/>
<line x1="363.50" y1="246.50" x2="366.90" y2="246.50" stroke="#111" stroke-width="0.9"/>
<text x="361.50" y="249.36" font-size="6.4" text-anchor="end" fill="#111111" stroke="#111111" stroke-width="0.1" textLength="9.20" lengthAdjust="spacingAndGlyphs">20</text>
<line x1="365.10" y1="243.50" x2="366.90" y2="243.50" stroke="#111" stroke-width="0.7"/>
<line x1="365.10" y1="239.50" x2="366.90" y2="239.50" stroke="#111" stroke-width="0.7"/>
<line x1="365.10" y1="235.50" x2="366.90" y2="235.50" stroke="#111" stroke-width="0.7"/>
<line x1="365.10" y1="232.50" x2="366.90" y2="232.50" stroke="#111" stroke-width="0.7"/>
<line x1="363.50" y1="228.50" x2="366.90" y2="228.50" stroke="#111" stroke-width="0.9"/>
<text x="361.50" y="231.72" font-size="6.4" text-anchor="end" fill="#111111" stroke="#111111" stroke-width="0.1" textLength="9.20" lengthAdjust="spacingAndGlyphs">40</text>
<line x1="365.10" y1="225.50" x2="366.90" y2="225.50" stroke="#111" stroke-width="0.7"/>
<line x1="365.10" y1="221.50" x2="366.90" y2="221.50" stroke="#111" stroke-width="0.7"/>
<line x1="365.10" y1="218.50" x2="366.90" y2="218.50" stroke="#111" stroke-width="0.7"/>
<line x1="365.10" y1="214.50" x2="366.90" y2="214.50" stroke="#111" stroke-width="0.7"/>
<line x1="363.50" y1="211.50" x2="366.90" y2="211.50" stroke="#111" stroke-width="0.9"/>
<text x="361.50" y="214.08" font-size="6.4" text-anchor="end" fill="#111111" stroke="#111111" stroke-width="0.1" textLength="9.20" lengthAdjust="spacingAndGlyphs">60</text>
<line x1="365.10" y1="207.50" x2="366.90" y2="207.50" stroke="#111" stroke-width="0.7"/>
<line x1="365.10" y1="204.50" x2="366.90" y2="204.50" stroke="#111" stroke-width="0.7"/>
<line x1="365.10" y1="200.50" x2="366.90" y2="200.50" stroke="#111" stroke-width="0.7"/>
<line x1="365.10" y1="197.50" x2="366.90" y2="197.50" stroke="#111" stroke-width="0.7"/>
<line x1="363.50" y1="193.50" x2="366.90" y2="193.50" stroke="#111" stroke-width="0.9"/>
<text x="361.50" y="196.44" font-size="6.4" text-anchor="end" fill="#111111" stroke="#111111" stroke-width="0.1" textLength="9.20" lengthAdjust="spacingAndGlyphs">80</text>
<line x1="365.10" y1="190.50" x2="366.90" y2="190.50" stroke="#111" stroke-width="0.7"/>
<line x1="365.10" y1="186.50" x2="366.90" y2="186.50" stroke="#111" stroke-width="0.7"/>
<line x1="365.10" y1="183.50" x2="366.90" y2="183.50" stroke="#111" stroke-width="0.7"/>
<line x1="365.10" y1="179.50" x2="366.90" y2="179.50" stroke="#111" stroke-width="0.7"/>
<line x1="363.50" y1="176.50" x2="366.90" y2="176.50" stroke="#111" stroke-width="0.9"/>
<text x="361.50" y="178.80" font-size="6.4" text-anchor="end" fill="#111111" stroke="#111111" stroke-width="0.1" textLength="13.80" lengthAdjust="spacingAndGlyphs">100</text>
<text x="376.0" y="165.2" font-size="9.1" textLength="73.3" lengthAdjust="spacingAndGlyphs" fill="#111111" stroke="#111111" stroke-width="0.1">CAL-1 (<tspan fill="#c8102e" stroke="#c8102e">stimulated</tspan>)</text>
<text x="405.60" y="288.60" font-size="10.4" fill="#111111" stroke="#111111" stroke-width="0.25" textLength="14.90" lengthAdjust="spacingAndGlyphs">CD56</text>
<text x="363.90" y="275.20" font-size="6.3" fill="#111111" stroke="#111111" stroke-width="0.1" textLength="12.80" lengthAdjust="spacingAndGlyphs">−10</text>
<text x="377.00" y="271.60" font-size="4.6" fill="#111111" stroke="#111111" stroke-width="0.1">3</text>
<text x="386.90" y="275.20" font-size="6.3" fill="#111111" stroke="#111111" stroke-width="0.1" textLength="4.40" lengthAdjust="spacingAndGlyphs">0</text>
<text x="397.30" y="275.20" font-size="6.3" fill="#111111" stroke="#111111" stroke-width="0.1" textLength="8.20" lengthAdjust="spacingAndGlyphs">10</text>
<text x="405.70" y="271.60" font-size="4.6" fill="#111111" stroke="#111111" stroke-width="0.1">3</text>
<text x="422.70" y="275.20" font-size="6.3" fill="#111111" stroke="#111111" stroke-width="0.1" textLength="8.20" lengthAdjust="spacingAndGlyphs">10</text>
<text x="431.10" y="271.60" font-size="4.6" fill="#111111" stroke="#111111" stroke-width="0.1">4</text>
<text x="444.90" y="275.20" font-size="6.3" fill="#111111" stroke="#111111" stroke-width="0.1" textLength="8.20" lengthAdjust="spacingAndGlyphs">10</text>
<text x="453.30" y="271.60" font-size="4.6" fill="#111111" stroke="#111111" stroke-width="0.1">5</text>
<line x1="373.50" y1="264.20" x2="373.50" y2="266.60" stroke="#111" stroke-width="0.8"/>
<line x1="388.50" y1="264.20" x2="388.50" y2="266.60" stroke="#111" stroke-width="0.8"/>
<line x1="401.50" y1="264.20" x2="401.50" y2="266.60" stroke="#111" stroke-width="0.8"/>
<line x1="426.50" y1="264.20" x2="426.50" y2="266.60" stroke="#111" stroke-width="0.8"/>
<line x1="449.50" y1="264.20" x2="449.50" y2="266.60" stroke="#111" stroke-width="0.8"/>
<line x1="409.50" y1="264.20" x2="409.50" y2="265.60" stroke="#111" stroke-width="0.6"/>
<line x1="413.50" y1="264.20" x2="413.50" y2="265.60" stroke="#111" stroke-width="0.6"/>
<line x1="416.50" y1="264.20" x2="416.50" y2="265.60" stroke="#111" stroke-width="0.6"/>
<line x1="419.50" y1="264.20" x2="419.50" y2="265.60" stroke="#111" stroke-width="0.6"/>
<line x1="421.50" y1="264.20" x2="421.50" y2="265.60" stroke="#111" stroke-width="0.6"/>
<line x1="422.50" y1="264.20" x2="422.50" y2="265.60" stroke="#111" stroke-width="0.6"/>
<line x1="424.50" y1="264.20" x2="424.50" y2="265.60" stroke="#111" stroke-width="0.6"/>
<line x1="425.50" y1="264.20" x2="425.50" y2="265.60" stroke="#111" stroke-width="0.6"/>
<line x1="433.50" y1="264.20" x2="433.50" y2="265.60" stroke="#111" stroke-width="0.6"/>
<line x1="437.50" y1="264.20" x2="437.50" y2="265.60" stroke="#111" stroke-width="0.6"/>
<line x1="440.50" y1="264.20" x2="440.50" y2="265.60" stroke="#111" stroke-width="0.6"/>
<line x1="442.50" y1="264.20" x2="442.50" y2="265.60" stroke="#111" stroke-width="0.6"/>
<line x1="444.50" y1="264.20" x2="444.50" y2="265.60" stroke="#111" stroke-width="0.6"/>
<line x1="445.50" y1="264.20" x2="445.50" y2="265.60" stroke="#111" stroke-width="0.6"/>
<line x1="446.50" y1="264.20" x2="446.50" y2="265.60" stroke="#111" stroke-width="0.6"/>
<line x1="448.50" y1="264.20" x2="448.50" y2="265.60" stroke="#111" stroke-width="0.6"/>
<line x1="455.50" y1="264.20" x2="455.50" y2="265.60" stroke="#111" stroke-width="0.6"/>
<line x1="375.00" y1="264.20" x2="375.00" y2="265.60" stroke="#111" stroke-width="0.6"/>
<line x1="377.00" y1="264.20" x2="377.00" y2="265.60" stroke="#111" stroke-width="0.6"/>
<line x1="379.00" y1="264.20" x2="379.00" y2="265.60" stroke="#111" stroke-width="0.6"/>
<line x1="381.00" y1="264.20" x2="381.00" y2="265.60" stroke="#111" stroke-width="0.6"/>
<line x1="383.00" y1="264.20" x2="383.00" y2="265.60" stroke="#111" stroke-width="0.6"/>
<line x1="385.00" y1="264.20" x2="385.00" y2="265.60" stroke="#111" stroke-width="0.6"/>
<line x1="387.00" y1="264.20" x2="387.00" y2="265.60" stroke="#111" stroke-width="0.6"/>
<line x1="391.00" y1="264.20" x2="391.00" y2="265.60" stroke="#111" stroke-width="0.6"/>
<line x1="393.00" y1="264.20" x2="393.00" y2="265.60" stroke="#111" stroke-width="0.6"/>
<line x1="395.00" y1="264.20" x2="395.00" y2="265.60" stroke="#111" stroke-width="0.6"/>
<line x1="397.00" y1="264.20" x2="397.00" y2="265.60" stroke="#111" stroke-width="0.6"/>
<line x1="399.00" y1="264.20" x2="399.00" y2="265.60" stroke="#111" stroke-width="0.6"/>
<rect x="471.40" y="172.00" width="7.10" height="46.00" fill="#1a1a1a"/>
<rect x="472.30" y="172.90" width="5.30" height="4.50" fill="#ffffff"/>
<rect x="472.30" y="178.60" width="5.30" height="4.80" fill="#b47ad6"/>
<rect x="474.20" y="180.20" width="1.50" height="1.60" fill="#ffffff" opacity="0.8"/>
<rect x="472.30" y="184.60" width="5.30" height="4.80" fill="#f4dde2"/>
<rect x="474.20" y="186.20" width="1.50" height="1.60" fill="#ffffff" opacity="0.8"/>
<rect x="472.30" y="190.50" width="5.30" height="4.70" fill="#9cb08a"/>
<rect x="474.20" y="192.05" width="1.50" height="1.60" fill="#ffffff" opacity="0.8"/>
<rect x="472.30" y="196.00" width="5.30" height="4.60" fill="#b6e59e"/>
<rect x="474.20" y="197.50" width="1.50" height="1.60" fill="#ffffff" opacity="0.8"/>
<rect x="472.30" y="201.60" width="5.30" height="4.80" fill="#fadaa8"/>
<rect x="474.20" y="203.20" width="1.50" height="1.60" fill="#ffffff" opacity="0.8"/>
<rect x="472.30" y="207.40" width="5.30" height="4.60" fill="#7ad5f3"/>
<rect x="474.20" y="208.90" width="1.50" height="1.60" fill="#ffffff" opacity="0.8"/>
<rect x="472.30" y="213.00" width="5.30" height="4.20" fill="#f4a3ad"/>
<rect x="474.20" y="214.30" width="1.50" height="1.60" fill="#ffffff" opacity="0.8"/>
<text x="481.90" y="177.10" font-size="6.9" fill="#111111" stroke="#111111" stroke-width="0.1" textLength="15.50" lengthAdjust="spacingAndGlyphs">5 µM</text>
<text x="481.90" y="183.90" font-size="6.9" fill="#111111" stroke="#111111" stroke-width="0.1" textLength="25.80" lengthAdjust="spacingAndGlyphs">1.25 µM</text>
<text x="481.90" y="190.10" font-size="6.9" fill="#111111" stroke="#111111" stroke-width="0.1" textLength="25.80" lengthAdjust="spacingAndGlyphs">0.31 µM</text>
<text x="481.90" y="196.80" font-size="6.9" fill="#111111" stroke="#111111" stroke-width="0.1" textLength="25.80" lengthAdjust="spacingAndGlyphs">0.08 µM</text>
<text x="481.90" y="203.10" font-size="6.9" fill="#111111" stroke="#111111" stroke-width="0.1" textLength="25.80" lengthAdjust="spacingAndGlyphs">0.02 µM</text>
<text x="481.90" y="209.30" font-size="6.9" fill="#111111" stroke="#111111" stroke-width="0.1" textLength="18.60" lengthAdjust="spacingAndGlyphs">DMSO</text>
<text x="481.90" y="216.10" font-size="6.9" fill="#111111" stroke="#111111" stroke-width="0.1" textLength="30.80" lengthAdjust="spacingAndGlyphs">Unstained</text>
<line x1="40.50" y1="326.50" x2="40.50" y2="452.00" stroke="#2a2a2a" stroke-width="1"/>
<line x1="37.60" y1="417.50" x2="40.60" y2="417.50" stroke="#2a2a2a" stroke-width="0.9"/>
<text x="35.10" y="419.90" font-size="7.4" text-anchor="end" fill="#111111" stroke="#111111" stroke-width="0.1">0</text>
<line x1="37.60" y1="402.50" x2="40.60" y2="402.50" stroke="#2a2a2a" stroke-width="0.9"/>
<text x="35.10" y="405.36" font-size="7.4" text-anchor="end" fill="#111111" stroke="#111111" stroke-width="0.1">0.2</text>
<line x1="37.60" y1="388.50" x2="40.60" y2="388.50" stroke="#2a2a2a" stroke-width="0.9"/>
<text x="35.10" y="390.82" font-size="7.4" text-anchor="end" fill="#111111" stroke="#111111" stroke-width="0.1">0.4</text>
<line x1="37.60" y1="373.50" x2="40.60" y2="373.50" stroke="#2a2a2a" stroke-width="0.9"/>
<text x="35.10" y="376.28" font-size="7.4" text-anchor="end" fill="#111111" stroke="#111111" stroke-width="0.1">0.6</text>
<line x1="37.60" y1="359.50" x2="40.60" y2="359.50" stroke="#2a2a2a" stroke-width="0.9"/>
<text x="35.10" y="361.74" font-size="7.4" text-anchor="end" fill="#111111" stroke="#111111" stroke-width="0.1">0.8</text>
<line x1="37.60" y1="344.50" x2="40.60" y2="344.50" stroke="#2a2a2a" stroke-width="0.9"/>
<text x="35.10" y="347.20" font-size="7.4" text-anchor="end" fill="#111111" stroke="#111111" stroke-width="0.1">1</text>
<line x1="37.60" y1="330.50" x2="40.60" y2="330.50" stroke="#2a2a2a" stroke-width="0.9"/>
<text x="35.10" y="332.66" font-size="7.4" text-anchor="end" fill="#111111" stroke="#111111" stroke-width="0.1">1.2</text>
<line x1="40.60" y1="417.50" x2="187.00" y2="417.50" stroke="#2a2a2a" stroke-width="1"/>
<line x1="113.50" y1="417.30" x2="113.50" y2="452.00" stroke="#2a2a2a" stroke-width="1"/>
<line x1="187.50" y1="417.30" x2="187.50" y2="452.00" stroke="#2a2a2a" stroke-width="1"/>
<rect x="47.90" y="344.60" width="10.20" height="72.70" fill="#c8142f"/>
<rect x="72.10" y="372.23" width="10.20" height="45.07" fill="#f0c3cb"/>
<rect x="96.30" y="385.31" width="10.20" height="31.99" fill="#e08a9a"/>
<rect x="121.30" y="348.60" width="10.20" height="68.70" fill="#124e82"/>
<rect x="145.10" y="353.32" width="10.20" height="63.98" fill="#c3d4e3"/>
<rect x="169.40" y="370.41" width="10.20" height="46.89" fill="#86a6c4"/>
<line x1="53.50" y1="344.60" x2="53.50" y2="344.24" stroke="#2a2a2a" stroke-width="0.9"/>
<line x1="51.20" y1="344.50" x2="54.80" y2="344.50" stroke="#2a2a2a" stroke-width="1.0"/>
<line x1="77.50" y1="372.23" x2="77.50" y2="363.50" stroke="#2a2a2a" stroke-width="0.9"/>
<line x1="75.40" y1="363.50" x2="79.00" y2="363.50" stroke="#2a2a2a" stroke-width="1.0"/>
<line x1="101.50" y1="385.31" x2="101.50" y2="377.31" stroke="#2a2a2a" stroke-width="0.9"/>
<line x1="99.60" y1="377.50" x2="103.20" y2="377.50" stroke="#2a2a2a" stroke-width="1.0"/>
<line x1="126.50" y1="348.60" x2="126.50" y2="338.06" stroke="#2a2a2a" stroke-width="0.9"/>
<line x1="124.60" y1="338.50" x2="128.20" y2="338.50" stroke="#2a2a2a" stroke-width="1.0"/>
<line x1="150.50" y1="353.32" x2="150.50" y2="347.51" stroke="#2a2a2a" stroke-width="0.9"/>
<line x1="148.40" y1="347.50" x2="152.00" y2="347.50" stroke="#2a2a2a" stroke-width="1.0"/>
<line x1="174.50" y1="370.41" x2="174.50" y2="364.23" stroke="#2a2a2a" stroke-width="0.9"/>
<line x1="172.70" y1="364.50" x2="176.30" y2="364.50" stroke="#2a2a2a" stroke-width="1.0"/>
<text x="75.80" y="363.20" font-size="7" text-anchor="middle" fill="#111111" stroke="#111111" stroke-width="0.1">*</text>
<text x="100.60" y="377.10" font-size="7" text-anchor="middle" fill="#111111" stroke="#111111" stroke-width="0.1">**</text>
<text x="173.60" y="364.30" font-size="7" text-anchor="middle" fill="#111111" stroke="#111111" stroke-width="0.1">*</text>
<line x1="53.50" y1="417.30" x2="53.50" y2="420.10" stroke="#2a2a2a" stroke-width="0.9"/>
<text x="56.30" y="424.20" font-size="8.6" text-anchor="end" fill="#111111" stroke="#111111" stroke-width="0.22" textLength="22.80" lengthAdjust="spacingAndGlyphs" transform="rotate(-90 56.30 424.20)">DMSO</text>
<line x1="77.50" y1="417.30" x2="77.50" y2="420.10" stroke="#2a2a2a" stroke-width="0.9"/>
<text x="80.50" y="424.20" font-size="8.6" text-anchor="end" fill="#111111" stroke="#111111" stroke-width="0.22" textLength="27.20" lengthAdjust="spacingAndGlyphs" transform="rotate(-90 80.50 424.20)">0.31 µM</text>
<line x1="101.50" y1="417.30" x2="101.50" y2="420.10" stroke="#2a2a2a" stroke-width="0.9"/>
<text x="104.70" y="424.20" font-size="8.6" text-anchor="end" fill="#111111" stroke="#111111" stroke-width="0.22" textLength="17.00" lengthAdjust="spacingAndGlyphs" transform="rotate(-90 104.70 424.20)">5 µM</text>
<line x1="126.50" y1="417.30" x2="126.50" y2="420.10" stroke="#2a2a2a" stroke-width="0.9"/>
<text x="129.70" y="424.20" font-size="8.6" text-anchor="end" fill="#111111" stroke="#111111" stroke-width="0.22" textLength="22.80" lengthAdjust="spacingAndGlyphs" transform="rotate(-90 129.70 424.20)">DMSO</text>
<line x1="150.50" y1="417.30" x2="150.50" y2="420.10" stroke="#2a2a2a" stroke-width="0.9"/>
<text x="153.50" y="424.20" font-size="8.6" text-anchor="end" fill="#111111" stroke="#111111" stroke-width="0.22" textLength="27.20" lengthAdjust="spacingAndGlyphs" transform="rotate(-90 153.50 424.20)">0.31 µM</text>
<line x1="174.50" y1="417.30" x2="174.50" y2="420.10" stroke="#2a2a2a" stroke-width="0.9"/>
<text x="177.80" y="424.20" font-size="8.6" text-anchor="end" fill="#111111" stroke="#111111" stroke-width="0.22" textLength="17.00" lengthAdjust="spacingAndGlyphs" transform="rotate(-90 177.80 424.20)">5 µM</text>
<text x="77.90" y="463.60" font-size="8.5" text-anchor="middle" fill="#111111" stroke="#111111" stroke-width="0.3" textLength="20.60" lengthAdjust="spacingAndGlyphs">Control</text>
<text x="150.10" y="463.60" font-size="8.5" text-anchor="middle" fill="#111111" stroke="#111111" stroke-width="0.3" textLength="27.80" lengthAdjust="spacingAndGlyphs">Imiquimod</text>
<text x="18.90" y="372.30" font-size="7.9" text-anchor="middle" fill="#111111" stroke="#111111" stroke-width="0.3" textLength="72.60" lengthAdjust="spacingAndGlyphs" transform="rotate(-90 18.90 372.30)">Cell growth (fold change)</text>
<text x="117.50" y="325.60" font-size="9.5" text-anchor="middle" fill="#111111" stroke="#111111" stroke-width="0.1" textLength="45.00" lengthAdjust="spacingAndGlyphs">Cell growth</text>
<line x1="95.00" y1="328.50" x2="140.00" y2="328.50" stroke="#666" stroke-width="0.9"/>
<line x1="373.50" y1="336.00" x2="373.50" y2="452.30" stroke="#2a2a2a" stroke-width="1"/>
<line x1="370.10" y1="417.50" x2="373.10" y2="417.50" stroke="#2a2a2a" stroke-width="0.9"/>
<text x="366.60" y="419.80" font-size="7.4" text-anchor="end" fill="#111111" stroke="#111111" stroke-width="0.1">0</text>
<line x1="370.10" y1="406.50" x2="373.10" y2="406.50" stroke="#2a2a2a" stroke-width="0.9"/>
<text x="366.60" y="408.76" font-size="7.4" text-anchor="end" fill="#111111" stroke="#111111" stroke-width="0.1">0.2</text>
<line x1="370.10" y1="395.50" x2="373.10" y2="395.50" stroke="#2a2a2a" stroke-width="0.9"/>
<text x="366.60" y="397.72" font-size="7.4" text-anchor="end" fill="#111111" stroke="#111111" stroke-width="0.1">0.4</text>
<line x1="370.10" y1="384.50" x2="373.10" y2="384.50" stroke="#2a2a2a" stroke-width="0.9"/>
<text x="366.60" y="386.68" font-size="7.4" text-anchor="end" fill="#111111" stroke="#111111" stroke-width="0.1">0.6</text>
<line x1="370.10" y1="373.50" x2="373.10" y2="373.50" stroke="#2a2a2a" stroke-width="0.9"/>
<text x="366.60" y="375.64" font-size="7.4" text-anchor="end" fill="#111111" stroke="#111111" stroke-width="0.1">0.8</text>
<line x1="370.10" y1="362.50" x2="373.10" y2="362.50" stroke="#2a2a2a" stroke-width="0.9"/>
<text x="366.60" y="364.60" font-size="7.4" text-anchor="end" fill="#111111" stroke="#111111" stroke-width="0.1">1</text>
<line x1="370.10" y1="350.50" x2="373.10" y2="350.50" stroke="#2a2a2a" stroke-width="0.9"/>
<text x="366.60" y="353.56" font-size="7.4" text-anchor="end" fill="#111111" stroke="#111111" stroke-width="0.1">1.2</text>
<line x1="370.10" y1="339.50" x2="373.10" y2="339.50" stroke="#2a2a2a" stroke-width="0.9"/>
<text x="366.60" y="342.52" font-size="7.4" text-anchor="end" fill="#111111" stroke="#111111" stroke-width="0.1">1.4</text>
<line x1="373.10" y1="417.50" x2="512.30" y2="417.50" stroke="#2a2a2a" stroke-width="1"/>
<line x1="442.50" y1="417.20" x2="442.50" y2="452.30" stroke="#2a2a2a" stroke-width="1"/>
<line x1="512.50" y1="417.20" x2="512.50" y2="452.30" stroke="#2a2a2a" stroke-width="1"/>
<rect x="379.90" y="362.00" width="9.80" height="55.20" fill="#c8142f"/>
<rect x="402.70" y="370.28" width="9.80" height="46.92" fill="#f0c3cb"/>
<rect x="426.00" y="383.53" width="9.80" height="33.67" fill="#e08a9a"/>
<rect x="449.60" y="363.10" width="9.80" height="54.10" fill="#124e82"/>
<rect x="472.70" y="350.96" width="9.80" height="66.24" fill="#c3d4e3"/>
<rect x="495.90" y="361.45" width="9.80" height="55.75" fill="#86a6c4"/>
<line x1="384.50" y1="362.00" x2="384.50" y2="361.83" stroke="#2a2a2a" stroke-width="0.9"/>
<line x1="383.00" y1="361.50" x2="386.60" y2="361.50" stroke="#2a2a2a" stroke-width="1.0"/>
<line x1="407.50" y1="370.28" x2="407.50" y2="369.45" stroke="#2a2a2a" stroke-width="0.9"/>
<line x1="405.80" y1="369.50" x2="409.40" y2="369.50" stroke="#2a2a2a" stroke-width="1.0"/>
<line x1="430.50" y1="383.53" x2="430.50" y2="374.70" stroke="#2a2a2a" stroke-width="0.9"/>
<line x1="429.10" y1="374.50" x2="432.70" y2="374.50" stroke="#2a2a2a" stroke-width="1.0"/>
<line x1="454.50" y1="363.10" x2="454.50" y2="362.00" stroke="#2a2a2a" stroke-width="0.9"/>
<line x1="452.70" y1="362.50" x2="456.30" y2="362.50" stroke="#2a2a2a" stroke-width="1.0"/>
<line x1="477.50" y1="350.96" x2="477.50" y2="350.13" stroke="#2a2a2a" stroke-width="0.9"/>
<line x1="475.80" y1="350.50" x2="479.40" y2="350.50" stroke="#2a2a2a" stroke-width="1.0"/>
<line x1="500.50" y1="361.45" x2="500.50" y2="358.69" stroke="#2a2a2a" stroke-width="0.9"/>
<line x1="499.00" y1="358.50" x2="502.60" y2="358.50" stroke="#2a2a2a" stroke-width="1.0"/>
<text x="407.60" y="368.70" font-size="7" text-anchor="middle" fill="#111111" stroke="#111111" stroke-width="0.1">*</text>
<text x="477.20" y="349.10" font-size="7" text-anchor="middle" fill="#111111" stroke="#111111" stroke-width="0.1">*</text>
<line x1="384.50" y1="417.20" x2="384.50" y2="420.00" stroke="#2a2a2a" stroke-width="0.9"/>
<text x="388.10" y="424.20" font-size="8.6" text-anchor="end" fill="#111111" stroke="#111111" stroke-width="0.22" textLength="22.80" lengthAdjust="spacingAndGlyphs" transform="rotate(-90 388.10 424.20)">DMSO</text>
<line x1="407.50" y1="417.20" x2="407.50" y2="420.00" stroke="#2a2a2a" stroke-width="0.9"/>
<text x="410.90" y="424.20" font-size="8.6" text-anchor="end" fill="#111111" stroke="#111111" stroke-width="0.22" textLength="27.20" lengthAdjust="spacingAndGlyphs" transform="rotate(-90 410.90 424.20)">0.31 µM</text>
<line x1="430.50" y1="417.20" x2="430.50" y2="420.00" stroke="#2a2a2a" stroke-width="0.9"/>
<text x="434.20" y="424.20" font-size="8.6" text-anchor="end" fill="#111111" stroke="#111111" stroke-width="0.22" textLength="17.00" lengthAdjust="spacingAndGlyphs" transform="rotate(-90 434.20 424.20)">5 µM</text>
<line x1="454.50" y1="417.20" x2="454.50" y2="420.00" stroke="#2a2a2a" stroke-width="0.9"/>
<text x="457.80" y="424.20" font-size="8.6" text-anchor="end" fill="#111111" stroke="#111111" stroke-width="0.22" textLength="22.80" lengthAdjust="spacingAndGlyphs" transform="rotate(-90 457.80 424.20)">DMSO</text>
<line x1="477.50" y1="417.20" x2="477.50" y2="420.00" stroke="#2a2a2a" stroke-width="0.9"/>
<text x="480.90" y="424.20" font-size="8.6" text-anchor="end" fill="#111111" stroke="#111111" stroke-width="0.22" textLength="27.20" lengthAdjust="spacingAndGlyphs" transform="rotate(-90 480.90 424.20)">0.31 µM</text>
<line x1="500.50" y1="417.20" x2="500.50" y2="420.00" stroke="#2a2a2a" stroke-width="0.9"/>
<text x="504.10" y="424.20" font-size="8.6" text-anchor="end" fill="#111111" stroke="#111111" stroke-width="0.22" textLength="17.00" lengthAdjust="spacingAndGlyphs" transform="rotate(-90 504.10 424.20)">5 µM</text>
<text x="407.40" y="463.60" font-size="8.5" text-anchor="middle" fill="#111111" stroke="#111111" stroke-width="0.3" textLength="20.90" lengthAdjust="spacingAndGlyphs">Control</text>
<text x="477.40" y="463.60" font-size="8.5" text-anchor="middle" fill="#111111" stroke="#111111" stroke-width="0.3" textLength="29.80" lengthAdjust="spacingAndGlyphs">Imiquimod</text>
<text x="350.60" y="376.20" font-size="7.9" text-anchor="middle" fill="#111111" stroke="#111111" stroke-width="0.3" textLength="87.50" lengthAdjust="spacingAndGlyphs" transform="rotate(-90 350.60 376.20)">mRNA expression (fold change)</text>
<text x="439.20" y="326.20" font-size="9.4" text-anchor="middle" fill="#111111" stroke="#111111" stroke-width="0.1" textLength="26.00" lengthAdjust="spacingAndGlyphs" font-style="italic">BCL-2</text>
<line x1="426.20" y1="328.50" x2="452.20" y2="328.50" stroke="#666" stroke-width="0.9"/>
<line x1="40.50" y1="491.60" x2="40.50" y2="604.50" stroke="#2a2a2a" stroke-width="1"/>
<line x1="37.60" y1="569.50" x2="40.60" y2="569.50" stroke="#2a2a2a" stroke-width="0.9"/>
<text x="35.10" y="572.10" font-size="7.4" text-anchor="end" fill="#111111" stroke="#111111" stroke-width="0.1">0</text>
<line x1="37.60" y1="557.50" x2="40.60" y2="557.50" stroke="#2a2a2a" stroke-width="0.9"/>
<text x="35.10" y="559.76" font-size="7.4" text-anchor="end" fill="#111111" stroke="#111111" stroke-width="0.1">0.2</text>
<line x1="37.60" y1="544.50" x2="40.60" y2="544.50" stroke="#2a2a2a" stroke-width="0.9"/>
<text x="35.10" y="547.42" font-size="7.4" text-anchor="end" fill="#111111" stroke="#111111" stroke-width="0.1">0.4</text>
<line x1="37.60" y1="532.50" x2="40.60" y2="532.50" stroke="#2a2a2a" stroke-width="0.9"/>
<text x="35.10" y="535.08" font-size="7.4" text-anchor="end" fill="#111111" stroke="#111111" stroke-width="0.1">0.6</text>
<line x1="37.60" y1="520.50" x2="40.60" y2="520.50" stroke="#2a2a2a" stroke-width="0.9"/>
<text x="35.10" y="522.74" font-size="7.4" text-anchor="end" fill="#111111" stroke="#111111" stroke-width="0.1">0.8</text>
<line x1="37.60" y1="507.50" x2="40.60" y2="507.50" stroke="#2a2a2a" stroke-width="0.9"/>
<text x="35.10" y="510.40" font-size="7.4" text-anchor="end" fill="#111111" stroke="#111111" stroke-width="0.1">1</text>
<line x1="37.60" y1="495.50" x2="40.60" y2="495.50" stroke="#2a2a2a" stroke-width="0.9"/>
<text x="35.10" y="498.06" font-size="7.4" text-anchor="end" fill="#111111" stroke="#111111" stroke-width="0.1">1.2</text>
<line x1="40.60" y1="569.50" x2="187.40" y2="569.50" stroke="#2a2a2a" stroke-width="1"/>
<line x1="113.50" y1="569.50" x2="113.50" y2="604.50" stroke="#2a2a2a" stroke-width="1"/>
<line x1="187.50" y1="569.50" x2="187.50" y2="604.50" stroke="#2a2a2a" stroke-width="1"/>
<rect x="48.10" y="507.80" width="10.20" height="61.70" fill="#c8142f"/>
<rect x="72.00" y="564.69" width="10.20" height="4.81" fill="#f0c3cb"/>
<rect x="96.60" y="565.98" width="10.20" height="3.52" fill="#e08a9a"/>
<rect x="121.50" y="512.12" width="10.20" height="57.38" fill="#124e82"/>
<rect x="145.60" y="520.14" width="10.20" height="49.36" fill="#c3d4e3"/>
<rect x="170.10" y="520.76" width="10.20" height="48.74" fill="#86a6c4"/>
<line x1="53.50" y1="507.80" x2="53.50" y2="507.61" stroke="#2a2a2a" stroke-width="0.9"/>
<line x1="51.40" y1="507.50" x2="55.00" y2="507.50" stroke="#2a2a2a" stroke-width="1.0"/>
<line x1="77.50" y1="564.69" x2="77.50" y2="557.78" stroke="#2a2a2a" stroke-width="0.9"/>
<line x1="75.30" y1="557.50" x2="78.90" y2="557.50" stroke="#2a2a2a" stroke-width="1.0"/>
<line x1="101.50" y1="565.98" x2="101.50" y2="565.18" stroke="#2a2a2a" stroke-width="0.9"/>
<line x1="99.90" y1="565.50" x2="103.50" y2="565.50" stroke="#2a2a2a" stroke-width="1.0"/>
<line x1="126.50" y1="512.12" x2="126.50" y2="500.40" stroke="#2a2a2a" stroke-width="0.9"/>
<line x1="124.80" y1="500.50" x2="128.40" y2="500.50" stroke="#2a2a2a" stroke-width="1.0"/>
<line x1="150.50" y1="520.14" x2="150.50" y2="516.44" stroke="#2a2a2a" stroke-width="0.9"/>
<line x1="148.90" y1="516.50" x2="152.50" y2="516.50" stroke="#2a2a2a" stroke-width="1.0"/>
<line x1="175.50" y1="520.76" x2="175.50" y2="517.05" stroke="#2a2a2a" stroke-width="0.9"/>
<line x1="173.40" y1="517.50" x2="177.00" y2="517.50" stroke="#2a2a2a" stroke-width="1.0"/>
<text x="77.30" y="557.40" font-size="7" text-anchor="middle" fill="#111111" stroke="#111111" stroke-width="0.1">*</text>
<text x="102.00" y="565.10" font-size="7" text-anchor="middle" fill="#111111" stroke="#111111" stroke-width="0.1">**</text>
<line x1="53.50" y1="569.50" x2="53.50" y2="572.30" stroke="#2a2a2a" stroke-width="0.9"/>
<text x="56.50" y="576.40" font-size="8.6" text-anchor="end" fill="#111111" stroke="#111111" stroke-width="0.22" textLength="22.80" lengthAdjust="spacingAndGlyphs" transform="rotate(-90 56.50 576.40)">DMSO</text>
<line x1="77.50" y1="569.50" x2="77.50" y2="572.30" stroke="#2a2a2a" stroke-width="0.9"/>
<text x="80.40" y="576.40" font-size="8.6" text-anchor="end" fill="#111111" stroke="#111111" stroke-width="0.22" textLength="27.20" lengthAdjust="spacingAndGlyphs" transform="rotate(-90 80.40 576.40)">0.31 µM</text>
<line x1="101.50" y1="569.50" x2="101.50" y2="572.30" stroke="#2a2a2a" stroke-width="0.9"/>
<text x="105.00" y="576.40" font-size="8.6" text-anchor="end" fill="#111111" stroke="#111111" stroke-width="0.22" textLength="17.00" lengthAdjust="spacingAndGlyphs" transform="rotate(-90 105.00 576.40)">5 µM</text>
<line x1="126.50" y1="569.50" x2="126.50" y2="572.30" stroke="#2a2a2a" stroke-width="0.9"/>
<text x="129.90" y="576.40" font-size="8.6" text-anchor="end" fill="#111111" stroke="#111111" stroke-width="0.22" textLength="22.80" lengthAdjust="spacingAndGlyphs" transform="rotate(-90 129.90 576.40)">DMSO</text>
<line x1="150.50" y1="569.50" x2="150.50" y2="572.30" stroke="#2a2a2a" stroke-width="0.9"/>
<text x="154.00" y="576.40" font-size="8.6" text-anchor="end" fill="#111111" stroke="#111111" stroke-width="0.22" textLength="27.20" lengthAdjust="spacingAndGlyphs" transform="rotate(-90 154.00 576.40)">0.31 µM</text>
<line x1="175.50" y1="569.50" x2="175.50" y2="572.30" stroke="#2a2a2a" stroke-width="0.9"/>
<text x="178.50" y="576.40" font-size="8.6" text-anchor="end" fill="#111111" stroke="#111111" stroke-width="0.22" textLength="17.00" lengthAdjust="spacingAndGlyphs" transform="rotate(-90 178.50 576.40)">5 µM</text>
<text x="77.40" y="616.00" font-size="8.5" text-anchor="middle" fill="#111111" stroke="#111111" stroke-width="0.3" textLength="20.30" lengthAdjust="spacingAndGlyphs">Control</text>
<text x="150.10" y="616.00" font-size="8.5" text-anchor="middle" fill="#111111" stroke="#111111" stroke-width="0.3" textLength="29.10" lengthAdjust="spacingAndGlyphs">Imiquimod</text>
<text x="19.00" y="531.60" font-size="7.9" text-anchor="middle" fill="#111111" stroke="#111111" stroke-width="0.3" textLength="90.00" lengthAdjust="spacingAndGlyphs" transform="rotate(-90 19.00 531.60)">mRNA expression (fold change)</text>
<text x="114.05" y="487.10" font-size="9.0" text-anchor="middle" fill="#111111" stroke="#111111" stroke-width="0.1" textLength="20.50" lengthAdjust="spacingAndGlyphs" font-style="italic">IFIT1</text>
<line x1="103.80" y1="489.50" x2="124.30" y2="489.50" stroke="#666" stroke-width="0.9"/>
<line x1="261.50" y1="492.40" x2="261.50" y2="605.00" stroke="#2a2a2a" stroke-width="1"/>
<line x1="258.10" y1="569.50" x2="261.10" y2="569.50" stroke="#2a2a2a" stroke-width="0.9"/>
<text x="255.40" y="572.20" font-size="7.4" text-anchor="end" fill="#111111" stroke="#111111" stroke-width="0.1">0</text>
<line x1="258.10" y1="558.50" x2="261.10" y2="558.50" stroke="#2a2a2a" stroke-width="0.9"/>
<text x="255.40" y="561.56" font-size="7.4" text-anchor="end" fill="#111111" stroke="#111111" stroke-width="0.1">0.2</text>
<line x1="258.10" y1="548.50" x2="261.10" y2="548.50" stroke="#2a2a2a" stroke-width="0.9"/>
<text x="255.40" y="550.92" font-size="7.4" text-anchor="end" fill="#111111" stroke="#111111" stroke-width="0.1">0.4</text>
<line x1="258.10" y1="537.50" x2="261.10" y2="537.50" stroke="#2a2a2a" stroke-width="0.9"/>
<text x="255.40" y="540.28" font-size="7.4" text-anchor="end" fill="#111111" stroke="#111111" stroke-width="0.1">0.6</text>
<line x1="258.10" y1="527.50" x2="261.10" y2="527.50" stroke="#2a2a2a" stroke-width="0.9"/>
<text x="255.40" y="529.64" font-size="7.4" text-anchor="end" fill="#111111" stroke="#111111" stroke-width="0.1">0.8</text>
<line x1="258.10" y1="516.50" x2="261.10" y2="516.50" stroke="#2a2a2a" stroke-width="0.9"/>
<text x="255.40" y="519.00" font-size="7.4" text-anchor="end" fill="#111111" stroke="#111111" stroke-width="0.1">1</text>
<line x1="258.10" y1="505.50" x2="261.10" y2="505.50" stroke="#2a2a2a" stroke-width="0.9"/>
<text x="255.40" y="508.36" font-size="7.4" text-anchor="end" fill="#111111" stroke="#111111" stroke-width="0.1">1.2</text>
<line x1="258.10" y1="495.50" x2="261.10" y2="495.50" stroke="#2a2a2a" stroke-width="0.9"/>
<text x="255.40" y="497.72" font-size="7.4" text-anchor="end" fill="#111111" stroke="#111111" stroke-width="0.1">1.4</text>
<line x1="261.10" y1="569.50" x2="399.30" y2="569.50" stroke="#2a2a2a" stroke-width="1"/>
<line x1="330.50" y1="569.60" x2="330.50" y2="605.00" stroke="#2a2a2a" stroke-width="1"/>
<line x1="399.50" y1="569.60" x2="399.50" y2="605.00" stroke="#2a2a2a" stroke-width="1"/>
<rect x="268.15" y="516.40" width="9.70" height="53.20" fill="#c8142f"/>
<rect x="291.45" y="547.79" width="9.70" height="21.81" fill="#f0c3cb"/>
<rect x="314.55" y="542.47" width="9.70" height="27.13" fill="#e08a9a"/>
<rect x="337.25" y="511.08" width="9.70" height="58.52" fill="#124e82"/>
<rect x="360.25" y="525.44" width="9.70" height="44.16" fill="#c3d4e3"/>
<rect x="383.25" y="530.76" width="9.70" height="38.84" fill="#86a6c4"/>
<line x1="273.50" y1="516.40" x2="273.50" y2="516.24" stroke="#2a2a2a" stroke-width="0.9"/>
<line x1="271.20" y1="516.50" x2="274.80" y2="516.50" stroke="#2a2a2a" stroke-width="1.0"/>
<line x1="296.50" y1="547.79" x2="296.50" y2="541.94" stroke="#2a2a2a" stroke-width="0.9"/>
<line x1="294.50" y1="541.50" x2="298.10" y2="541.50" stroke="#2a2a2a" stroke-width="1.0"/>
<line x1="319.50" y1="542.47" x2="319.50" y2="541.40" stroke="#2a2a2a" stroke-width="0.9"/>
<line x1="317.60" y1="541.50" x2="321.20" y2="541.50" stroke="#2a2a2a" stroke-width="1.0"/>
<line x1="342.50" y1="511.08" x2="342.50" y2="501.50" stroke="#2a2a2a" stroke-width="0.9"/>
<line x1="340.30" y1="501.50" x2="343.90" y2="501.50" stroke="#2a2a2a" stroke-width="1.0"/>
<line x1="365.50" y1="525.44" x2="365.50" y2="522.78" stroke="#2a2a2a" stroke-width="0.9"/>
<line x1="363.30" y1="522.50" x2="366.90" y2="522.50" stroke="#2a2a2a" stroke-width="1.0"/>
<line x1="388.50" y1="530.76" x2="388.50" y2="528.10" stroke="#2a2a2a" stroke-width="0.9"/>
<line x1="386.30" y1="528.50" x2="389.90" y2="528.50" stroke="#2a2a2a" stroke-width="1.0"/>
<text x="295.60" y="542.30" font-size="7" text-anchor="middle" fill="#111111" stroke="#111111" stroke-width="0.1">*</text>
<text x="319.00" y="542.30" font-size="7" text-anchor="middle" fill="#111111" stroke="#111111" stroke-width="0.1">**</text>
<line x1="273.50" y1="569.60" x2="273.50" y2="572.40" stroke="#2a2a2a" stroke-width="0.9"/>
<text x="276.30" y="576.90" font-size="8.6" text-anchor="end" fill="#111111" stroke="#111111" stroke-width="0.22" textLength="22.80" lengthAdjust="spacingAndGlyphs" transform="rotate(-90 276.30 576.90)">DMSO</text>
<line x1="296.50" y1="569.60" x2="296.50" y2="572.40" stroke="#2a2a2a" stroke-width="0.9"/>
<text x="299.60" y="576.90" font-size="8.6" text-anchor="end" fill="#111111" stroke="#111111" stroke-width="0.22" textLength="27.20" lengthAdjust="spacingAndGlyphs" transform="rotate(-90 299.60 576.90)">0.31 µM</text>
<line x1="319.50" y1="569.60" x2="319.50" y2="572.40" stroke="#2a2a2a" stroke-width="0.9"/>
<text x="322.70" y="576.90" font-size="8.6" text-anchor="end" fill="#111111" stroke="#111111" stroke-width="0.22" textLength="17.00" lengthAdjust="spacingAndGlyphs" transform="rotate(-90 322.70 576.90)">5 µM</text>
<line x1="342.50" y1="569.60" x2="342.50" y2="572.40" stroke="#2a2a2a" stroke-width="0.9"/>
<text x="345.40" y="576.90" font-size="8.6" text-anchor="end" fill="#111111" stroke="#111111" stroke-width="0.22" textLength="22.80" lengthAdjust="spacingAndGlyphs" transform="rotate(-90 345.40 576.90)">DMSO</text>
<line x1="365.50" y1="569.60" x2="365.50" y2="572.40" stroke="#2a2a2a" stroke-width="0.9"/>
<text x="368.40" y="576.90" font-size="8.6" text-anchor="end" fill="#111111" stroke="#111111" stroke-width="0.22" textLength="27.20" lengthAdjust="spacingAndGlyphs" transform="rotate(-90 368.40 576.90)">0.31 µM</text>
<line x1="388.50" y1="569.60" x2="388.50" y2="572.40" stroke="#2a2a2a" stroke-width="0.9"/>
<text x="391.40" y="576.90" font-size="8.6" text-anchor="end" fill="#111111" stroke="#111111" stroke-width="0.22" textLength="17.00" lengthAdjust="spacingAndGlyphs" transform="rotate(-90 391.40 576.90)">5 µM</text>
<text x="296.20" y="616.40" font-size="8.5" text-anchor="middle" fill="#111111" stroke="#111111" stroke-width="0.3" textLength="20.20" lengthAdjust="spacingAndGlyphs">Control</text>
<text x="365.10" y="616.40" font-size="8.5" text-anchor="middle" fill="#111111" stroke="#111111" stroke-width="0.3" textLength="29.80" lengthAdjust="spacingAndGlyphs">Imiquimod</text>
<text x="241.00" y="531.50" font-size="7.9" text-anchor="middle" fill="#111111" stroke="#111111" stroke-width="0.3" textLength="89.50" lengthAdjust="spacingAndGlyphs" transform="rotate(-90 241.00 531.50)">mRNA expression (fold change)</text>
<text x="331.00" y="486.80" font-size="8.8" text-anchor="middle" fill="#111111" stroke="#111111" stroke-width="0.1" textLength="18.80" lengthAdjust="spacingAndGlyphs" font-style="italic">IRF7</text>
<line x1="321.60" y1="489.50" x2="340.40" y2="489.50" stroke="#666" stroke-width="0.9"/>
<defs><filter id="bl" x="-30%" y="-80%" width="160%" height="260%"><feGaussianBlur stdDeviation="0.6"/></filter><filter id="bl2" x="-30%" y="-80%" width="160%" height="260%"><feGaussianBlur stdDeviation="1.4"/></filter><filter id="bl3" x="-10%" y="-10%" width="120%" height="120%"><feGaussianBlur stdDeviation="0.6"/></filter></defs>
<text x="243.65" y="320.60" font-size="7.4" text-anchor="middle" fill="#333" stroke="#333" stroke-width="0.1" textLength="42.70" lengthAdjust="spacingAndGlyphs">Unstimulated</text>
<line x1="222.30" y1="322.50" x2="265.00" y2="322.50" stroke="#555" stroke-width="0.9"/>
<text x="287.60" y="320.60" font-size="7.4" text-anchor="middle" fill="#c8102e" stroke="#c8102e" stroke-width="0.1" textLength="34.80" lengthAdjust="spacingAndGlyphs">Stimulated</text>
<line x1="270.20" y1="322.50" x2="305.00" y2="322.50" stroke="#d0243f" stroke-width="0.9"/>
<text x="235.00" y="354.00" font-size="7.9" text-anchor="end" fill="#111111" stroke="#111111" stroke-width="0.1" textLength="23.10" lengthAdjust="spacingAndGlyphs" transform="rotate(90 235.00 354.00)">DMSO</text>
<text x="247.20" y="354.00" font-size="7.9" text-anchor="end" fill="#111111" stroke="#111111" stroke-width="0.1" textLength="28.50" lengthAdjust="spacingAndGlyphs" transform="rotate(90 247.20 354.00)">0.31 µM</text>
<text x="259.20" y="354.00" font-size="7.9" text-anchor="end" fill="#111111" stroke="#111111" stroke-width="0.1" textLength="17.70" lengthAdjust="spacingAndGlyphs" transform="rotate(90 259.20 354.00)">5 µM</text>
<text x="270.60" y="354.00" font-size="7.9" text-anchor="end" fill="#111111" stroke="#111111" stroke-width="0.1" textLength="23.10" lengthAdjust="spacingAndGlyphs" transform="rotate(90 270.60 354.00)">DMSO</text>
<text x="283.40" y="354.00" font-size="7.9" text-anchor="end" fill="#111111" stroke="#111111" stroke-width="0.1" textLength="28.50" lengthAdjust="spacingAndGlyphs" transform="rotate(90 283.40 354.00)">0.31 µM</text>
<text x="295.60" y="354.00" font-size="7.9" text-anchor="end" fill="#111111" stroke="#111111" stroke-width="0.1" textLength="17.70" lengthAdjust="spacingAndGlyphs" transform="rotate(90 295.60 354.00)">5 µM</text>
<rect x="231.60" y="356.40" width="77.00" height="17.60" fill="#dcdcdc"/>
<rect x="231.60" y="357.00" width="77.00" height="6.00" fill="#d2d2d2" filter="url(#bl2)"/>
<rect x="234.1" y="365.7" width="10.2" height="3.4" fill="#161616" rx="1.2" opacity="1.0" filter="url(#bl)"/>
<rect x="246.1" y="366.2" width="10.0" height="2.8" fill="#4a4a4a" rx="1.2" opacity="1.0" filter="url(#bl)"/>
<rect x="258.1" y="366.1" width="9.8" height="2.6" fill="#646464" rx="1.2" opacity="1.0" filter="url(#bl)"/>
<rect x="269.9" y="365.3" width="10.4" height="3.8" fill="#0e0e0e" rx="1.2" opacity="1.0" filter="url(#bl)"/>
<rect x="282.3" y="365.4" width="10.0" height="2.8" fill="#444444" rx="1.2" opacity="1.0" filter="url(#bl)"/>
<rect x="294.3" y="365.1" width="10.6" height="2.6" fill="#5a5a5a" rx="1.2" opacity="1.0" filter="url(#bl)"/>
<rect x="244.7" y="356.9" width="1.0" height="16.6" fill="#ffffff" opacity="0.15" filter="url(#bl3)"/>
<rect x="256.6" y="356.9" width="1.0" height="16.6" fill="#ffffff" opacity="0.15" filter="url(#bl3)"/>
<rect x="268.5" y="356.9" width="1.0" height="16.6" fill="#ffffff" opacity="0.15" filter="url(#bl3)"/>
<rect x="280.8" y="356.9" width="1.0" height="16.6" fill="#ffffff" opacity="0.15" filter="url(#bl3)"/>
<rect x="292.8" y="356.9" width="1.0" height="16.6" fill="#ffffff" opacity="0.15" filter="url(#bl3)"/>
<rect x="231.60" y="356.40" width="77.00" height="17.60" fill="none" stroke="#333" stroke-width="1.1" rx="0.8"/>
<rect x="231.60" y="376.70" width="77.00" height="26.90" fill="#dedede"/>
<rect x="236.2" y="383.4" width="8.4" height="3.4" fill="#161616" rx="1.2" opacity="1.0" filter="url(#bl)"/>
<rect x="235.2" y="395.6" width="10.0" height="2.6" fill="#141414" rx="1.2" opacity="1.0" filter="url(#bl)"/>
<rect x="236.2" y="387.1" width="8.4" height="3.0" fill="#5a5a5a" rx="1.2" opacity="0.55" filter="url(#bl2)"/>
<rect x="238.3" y="391.2" width="4.3" height="1.6" fill="#8a8a8a" rx="1.2" opacity="0.4" filter="url(#bl2)"/>
<rect x="248.2" y="384.0" width="8.2" height="2.2" fill="#b2b2b2" rx="1.2" opacity="1.0" filter="url(#bl)"/>
<rect x="247.2" y="395.9" width="9.8" height="2.0" fill="#9a9a9a" rx="1.2" opacity="1.0" filter="url(#bl)"/>
<rect x="260.2" y="384.0" width="8.0" height="2.2" fill="#bababa" rx="1.2" opacity="1.0" filter="url(#bl)"/>
<rect x="259.2" y="396.0" width="9.6" height="1.8" fill="#bcbcbc" rx="1.2" opacity="1.0" filter="url(#bl)"/>
<rect x="272.0" y="383.3" width="8.6" height="3.6" fill="#0a0a0a" rx="1.2" opacity="1.0" filter="url(#bl)"/>
<rect x="271.0" y="395.6" width="10.2" height="2.6" fill="#121212" rx="1.2" opacity="1.0" filter="url(#bl)"/>
<rect x="272.0" y="387.1" width="8.6" height="3.0" fill="#5a5a5a" rx="1.2" opacity="0.55" filter="url(#bl2)"/>
<rect x="274.1" y="391.2" width="4.5" height="1.6" fill="#8a8a8a" rx="1.2" opacity="0.4" filter="url(#bl2)"/>
<rect x="284.4" y="384.0" width="8.2" height="2.2" fill="#acacac" rx="1.2" opacity="1.0" filter="url(#bl)"/>
<rect x="283.4" y="395.9" width="9.8" height="2.0" fill="#8e8e8e" rx="1.2" opacity="1.0" filter="url(#bl)"/>
<rect x="296.4" y="384.0" width="8.8" height="2.2" fill="#b6b6b6" rx="1.2" opacity="1.0" filter="url(#bl)"/>
<rect x="295.4" y="396.0" width="10.4" height="1.8" fill="#b4b4b4" rx="1.2" opacity="1.0" filter="url(#bl)"/>
<rect x="269.8" y="380.3" width="9.7" height="2.6" fill="#3a3a3a" rx="1.2" opacity="0.5" filter="url(#bl2)"/>
<rect x="244.7" y="377.2" width="1.0" height="25.9" fill="#ffffff" opacity="0.15" filter="url(#bl3)"/>
<rect x="256.6" y="377.2" width="1.0" height="25.9" fill="#ffffff" opacity="0.15" filter="url(#bl3)"/>
<rect x="268.5" y="377.2" width="1.0" height="25.9" fill="#ffffff" opacity="0.15" filter="url(#bl3)"/>
<rect x="280.8" y="377.2" width="1.0" height="25.9" fill="#ffffff" opacity="0.15" filter="url(#bl3)"/>
<rect x="292.8" y="377.2" width="1.0" height="25.9" fill="#ffffff" opacity="0.15" filter="url(#bl3)"/>
<rect x="231.60" y="376.70" width="77.00" height="26.90" fill="none" stroke="#333" stroke-width="1.1" rx="0.8"/>
<rect x="231.60" y="406.80" width="77.00" height="26.80" fill="#cdcdcd"/>
<rect x="233.00" y="407.40" width="12.40" height="11.60" fill="#5e5e5e" filter="url(#bl)"/>
<rect x="233.00" y="420.60" width="12.40" height="12.40" fill="#b0b0b0" filter="url(#bl)"/>
<rect x="233.8" y="417.8" width="10.8" height="2.4" fill="#141414" rx="1.2" opacity="1.0" filter="url(#bl)"/>
<rect x="245.00" y="407.40" width="12.20" height="11.60" fill="#555555" filter="url(#bl)"/>
<rect x="245.00" y="420.60" width="12.20" height="12.40" fill="#aaaaaa" filter="url(#bl)"/>
<rect x="245.8" y="417.5" width="10.6" height="3.0" fill="#0a0a0a" rx="1.2" opacity="1.0" filter="url(#bl)"/>
<rect x="257.00" y="407.40" width="12.00" height="11.60" fill="#4e4e4e" filter="url(#bl)"/>
<rect x="257.00" y="420.60" width="12.00" height="12.40" fill="#adadad" filter="url(#bl)"/>
<rect x="257.8" y="417.5" width="10.4" height="3.0" fill="#0e0e0e" rx="1.2" opacity="1.0" filter="url(#bl)"/>
<rect x="268.80" y="407.40" width="12.60" height="11.60" fill="#c9c9c9" filter="url(#bl)"/>
<rect x="268.80" y="420.60" width="12.60" height="12.40" fill="#d0d0d0" filter="url(#bl)"/>
<rect x="281.20" y="407.40" width="12.20" height="11.60" fill="#c1c1c1" filter="url(#bl)"/>
<rect x="281.20" y="420.60" width="12.20" height="12.40" fill="#cbcbcb" filter="url(#bl)"/>
<rect x="293.20" y="407.40" width="12.80" height="11.60" fill="#8c8c8c" filter="url(#bl)"/>
<rect x="293.20" y="420.60" width="12.80" height="12.40" fill="#b3b3b3" filter="url(#bl)"/>
<rect x="294.0" y="417.7" width="11.2" height="2.6" fill="#1a1a1a" rx="1.2" opacity="1.0" filter="url(#bl)"/>
<rect x="233.8" y="411.5" width="10.2" height="3.0" fill="#3a3a3a" rx="1.2" opacity="0.6" filter="url(#bl2)"/>
<rect x="246.0" y="410.5" width="10.0" height="3.0" fill="#333333" rx="1.2" opacity="0.6" filter="url(#bl2)"/>
<rect x="258.0" y="411.2" width="10.0" height="2.2" fill="#1e1e1e" rx="1.2" opacity="0.9" filter="url(#bl)"/>
<rect x="294.0" y="411.0" width="11.0" height="3.0" fill="#555555" rx="1.2" opacity="0.5" filter="url(#bl2)"/>
<rect x="244.7" y="407.3" width="1.0" height="25.8" fill="#ffffff" opacity="0.5" filter="url(#bl3)"/>
<rect x="256.6" y="407.3" width="1.0" height="25.8" fill="#ffffff" opacity="0.5" filter="url(#bl3)"/>
<rect x="268.5" y="407.3" width="1.0" height="25.8" fill="#ffffff" opacity="0.5" filter="url(#bl3)"/>
<rect x="280.8" y="407.3" width="1.0" height="25.8" fill="#ffffff" opacity="0.5" filter="url(#bl3)"/>
<rect x="292.8" y="407.3" width="1.0" height="25.8" fill="#ffffff" opacity="0.5" filter="url(#bl3)"/>
<rect x="231.60" y="406.80" width="77.00" height="26.80" fill="none" stroke="#333" stroke-width="1.1" rx="0.8"/>
<rect x="231.60" y="436.70" width="77.00" height="17.70" fill="#d8d8d8"/>
<rect x="233.8" y="443.3" width="10.8" height="3.0" fill="#0a0a0a" rx="1.2" opacity="1.0" filter="url(#bl)"/>
<rect x="245.8" y="442.7" width="10.6" height="4.2" fill="#0a0a0a" rx="1.2" opacity="1.0" filter="url(#bl)"/>
<rect x="257.8" y="442.7" width="10.4" height="4.2" fill="#0a0a0a" rx="1.2" opacity="1.0" filter="url(#bl)"/>
<rect x="269.6" y="442.6" width="11.0" height="4.4" fill="#0a0a0a" rx="1.2" opacity="1.0" filter="url(#bl)"/>
<rect x="282.0" y="442.7" width="10.6" height="4.2" fill="#0a0a0a" rx="1.2" opacity="1.0" filter="url(#bl)"/>
<rect x="294.0" y="442.7" width="11.2" height="4.2" fill="#0a0a0a" rx="1.2" opacity="1.0" filter="url(#bl)"/>
<rect x="246.0" y="447.7" width="10.0" height="1.6" fill="#555" rx="1.2" opacity="0.4" filter="url(#bl2)"/>
<rect x="244.7" y="437.2" width="1.0" height="16.7" fill="#ffffff" opacity="0.5" filter="url(#bl3)"/>
<rect x="256.6" y="437.2" width="1.0" height="16.7" fill="#ffffff" opacity="0.5" filter="url(#bl3)"/>
<rect x="268.5" y="437.2" width="1.0" height="16.7" fill="#ffffff" opacity="0.5" filter="url(#bl3)"/>
<rect x="280.8" y="437.2" width="1.0" height="16.7" fill="#ffffff" opacity="0.5" filter="url(#bl3)"/>
<rect x="292.8" y="437.2" width="1.0" height="16.7" fill="#ffffff" opacity="0.5" filter="url(#bl3)"/>
<rect x="231.60" y="436.70" width="77.00" height="17.70" fill="none" stroke="#333" stroke-width="1.1" rx="0.8"/>
<text x="228.70" y="367.80" font-size="7.6" text-anchor="end" fill="#111111" stroke="#111111" stroke-width="0.1">METTL3</text>
<text x="228.70" y="391.90" font-size="7.6" text-anchor="end" fill="#111111" stroke="#111111" stroke-width="0.1">SDMA</text>
<text x="228.70" y="416.00" font-size="7.6" text-anchor="end" fill="#111111" stroke="#111111" stroke-width="0.1">Cleaved</text>
<text x="228.70" y="426.60" font-size="7.6" text-anchor="end" fill="#111111" stroke="#111111" stroke-width="0.1">caspase-3</text>
<text x="228.70" y="446.50" font-size="7.6" text-anchor="end" fill="#111111" stroke="#111111" stroke-width="0.1">Actin</text>
<text x="311.70" y="367.80" font-size="7.5" fill="#111111" stroke="#111111" stroke-width="0.1" textLength="23.80" lengthAdjust="spacingAndGlyphs">75 kDa</text>
<text x="311.70" y="387.60" font-size="7.5" fill="#111111" stroke="#111111" stroke-width="0.1" textLength="23.80" lengthAdjust="spacingAndGlyphs">25 kDa</text>
<text x="311.70" y="399.10" font-size="7.5" fill="#111111" stroke="#111111" stroke-width="0.1" textLength="23.80" lengthAdjust="spacingAndGlyphs">17 kDa</text>
<text x="311.70" y="414.40" font-size="7.5" fill="#111111" stroke="#111111" stroke-width="0.1" textLength="23.80" lengthAdjust="spacingAndGlyphs">20 kDa</text>
<text x="311.70" y="424.00" font-size="7.5" fill="#111111" stroke="#111111" stroke-width="0.1" textLength="23.80" lengthAdjust="spacingAndGlyphs">15 kDa</text>
<text x="311.70" y="445.70" font-size="7.5" fill="#111111" stroke="#111111" stroke-width="0.1" textLength="23.80" lengthAdjust="spacingAndGlyphs">42 kDa</text>
<rect x="0" y="0" width="520" height="1.05" fill="#000"/><rect x="0" y="0" width="1.05" height="623" fill="#000"/><rect x="518.95" y="0" width="1.05" height="623" fill="#000"/><rect x="0" y="621.95" width="520" height="1.05" fill="#000"/>
</svg>
</body></html>
